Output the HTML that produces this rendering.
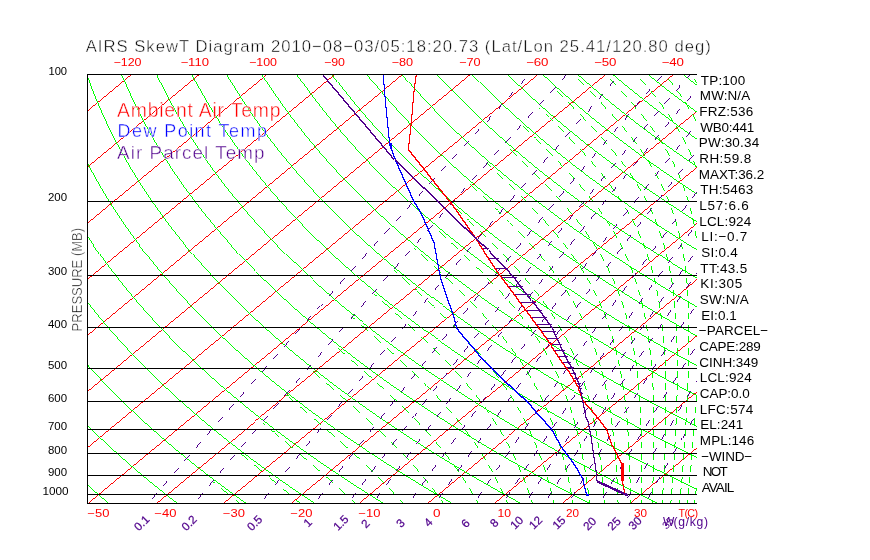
<!DOCTYPE html>
<html><head><meta charset="utf-8"><style>
html,body{margin:0;padding:0;background:#fff;}
svg{display:block;will-change:transform;}
text{font-family:"Liberation Sans",sans-serif;}
.e{stroke:#fff;stroke-width:0.45px;paint-order:fill;}
</style></head><body>
<svg width="870" height="560" viewBox="0 0 870 560">
<defs><clipPath id="c"><rect x="87.5" y="74" width="609.5" height="430.13"/></clipPath></defs>
<rect width="870" height="560" fill="#fff"/>
<g clip-path="url(#c)" fill="none" shape-rendering="crispEdges">
<g stroke="#f00" stroke-width="0.999">
<line x1="-454.25" y1="503.63" x2="63.76" y2="74.5"/>
<line x1="-386.5" y1="503.63" x2="131.51" y2="74.5"/>
<line x1="-318.75" y1="503.63" x2="199.26" y2="74.5"/>
<line x1="-251" y1="503.63" x2="267.01" y2="74.5"/>
<line x1="-183.25" y1="503.63" x2="334.76" y2="74.5"/>
<line x1="-115.5" y1="503.63" x2="402.51" y2="74.5"/>
<line x1="-47.75" y1="503.63" x2="470.26" y2="74.5"/>
<line x1="20" y1="503.63" x2="538.01" y2="74.5"/>
<line x1="87.75" y1="503.63" x2="605.76" y2="74.5"/>
<line x1="155.5" y1="503.63" x2="673.51" y2="74.5"/>
<line x1="223.25" y1="503.63" x2="741.26" y2="74.5"/>
<line x1="291" y1="503.63" x2="809.01" y2="74.5"/>
<line x1="358.75" y1="503.63" x2="876.76" y2="74.5"/>
<line x1="426.5" y1="503.63" x2="944.51" y2="74.5"/>
<line x1="494.25" y1="503.63" x2="1012.26" y2="74.5"/>
<line x1="562" y1="503.63" x2="1080.01" y2="74.5"/>
<line x1="629.75" y1="503.63" x2="1147.76" y2="74.5"/>
<line x1="697.5" y1="503.63" x2="1215.51" y2="74.5"/>
</g>
<g stroke="#0f0" stroke-width="0.999">
<polyline points="40.29,503.63 31.07,495.02 22.1,486.42 13.4,477.81 4.95,469.21 -3.25,460.61 -11.19,452 -18.9,443.4 -26.36,434.79 -33.58,426.19 -40.56,417.59 -47.32,408.98 -53.84,400.38 -60.14,391.77 -66.21,383.17 -72.06,374.57 -77.7,365.96 -83.12,357.36 -88.33,348.75 -93.33,340.15 -98.12,331.55 -102.71,322.94 -107.1,314.34 -111.29,305.73 -115.29,297.13 -119.09,288.53 -122.71,279.92 -126.13,271.32 -129.38,262.71 -132.44,254.11 -135.31,245.51 -138.02,236.9 -140.54,228.3 -142.9,219.69 -145.08,211.09 -147.09,202.48 -148.94,193.88 -150.63,185.28 -152.15,176.67 -153.51,168.07 -154.72,159.46 -155.77,150.86 -156.67,142.26 -157.41,133.65 -158.01,125.05 -158.46,116.44 -158.76,107.84 -158.93,99.24 -158.95,90.63 -158.83,82.03 -158.61,74.5"/>
<polyline points="109,503.63 98.85,495.02 88.98,486.42 79.38,477.81 70.04,469.21 60.98,460.61 52.17,452 43.62,443.4 35.32,434.79 27.27,426.19 19.47,417.59 11.92,408.98 4.6,400.38 -2.48,391.77 -9.32,383.17 -15.94,374.57 -22.33,365.96 -28.49,357.36 -34.43,348.75 -40.15,340.15 -45.66,331.55 -50.95,322.94 -56.03,314.34 -60.91,305.73 -65.58,297.13 -70.05,288.53 -74.32,279.92 -78.4,271.32 -82.28,262.71 -85.97,254.11 -89.47,245.51 -92.79,236.9 -95.92,228.3 -98.87,219.69 -101.64,211.09 -104.24,202.48 -106.66,193.88 -108.91,185.28 -110.99,176.67 -112.91,168.07 -114.65,159.46 -116.24,150.86 -117.67,142.26 -118.94,133.65 -120.05,125.05 -121.01,116.44 -121.81,107.84 -122.47,99.24 -122.98,90.63 -123.34,82.03 -123.54,74.5"/>
<polyline points="177.7,503.63 166.63,495.02 155.85,486.42 145.36,477.81 135.14,469.21 125.2,460.61 115.53,452 106.13,443.4 97,434.79 88.12,426.19 79.51,417.59 71.15,408.98 63.04,400.38 55.18,391.77 47.56,383.17 40.18,374.57 33.04,365.96 26.14,357.36 19.47,348.75 13.02,340.15 6.81,331.55 0.81,322.94 -4.97,314.34 -10.53,305.73 -15.87,297.13 -21.01,288.53 -25.94,279.92 -30.66,271.32 -35.18,262.71 -39.5,254.11 -43.62,245.51 -47.55,236.9 -51.29,228.3 -54.84,219.69 -58.2,211.09 -61.38,202.48 -64.38,193.88 -67.19,185.28 -69.83,176.67 -72.3,168.07 -74.59,159.46 -76.72,150.86 -78.67,142.26 -80.46,133.65 -82.09,125.05 -83.56,116.44 -84.87,107.84 -86.02,99.24 -87.01,90.63 -87.86,82.03 -88.47,74.5"/>
<polyline points="246.4,503.63 234.41,495.02 222.73,486.42 211.33,477.81 200.23,469.21 189.42,460.61 178.89,452 168.65,443.4 158.67,434.79 148.97,426.19 139.54,417.59 130.38,408.98 121.48,400.38 112.83,391.77 104.44,383.17 96.3,374.57 88.41,365.96 80.77,357.36 73.37,348.75 66.2,340.15 59.27,331.55 52.57,322.94 46.1,314.34 39.86,305.73 33.84,297.13 28.03,288.53 22.45,279.92 17.08,271.32 11.92,262.71 6.97,254.11 2.22,245.51 -2.32,236.9 -6.67,228.3 -10.81,219.69 -14.76,211.09 -18.52,202.48 -22.09,193.88 -25.48,185.28 -28.68,176.67 -31.69,168.07 -34.53,159.46 -37.19,150.86 -39.68,142.26 -41.99,133.65 -44.13,125.05 -46.11,116.44 -47.92,107.84 -49.56,99.24 -51.05,90.63 -52.37,82.03 -53.41,74.5"/>
<polyline points="315.1,503.63 302.19,495.02 289.6,486.42 277.31,477.81 265.33,469.21 253.64,460.61 242.26,452 231.16,443.4 220.35,434.79 209.83,426.19 199.58,417.59 189.61,408.98 179.92,400.38 170.49,391.77 161.33,383.17 152.43,374.57 143.78,365.96 135.4,357.36 127.26,348.75 119.37,340.15 111.73,331.55 104.33,322.94 97.17,314.34 90.24,305.73 83.54,297.13 77.08,288.53 70.83,279.92 64.82,271.32 59.02,262.71 53.43,254.11 48.07,245.51 42.91,236.9 37.96,228.3 33.22,219.69 28.67,211.09 24.33,202.48 20.19,193.88 16.24,185.28 12.48,176.67 8.91,168.07 5.53,159.46 2.34,150.86 -0.68,142.26 -3.52,133.65 -6.17,125.05 -8.66,116.44 -10.97,107.84 -13.11,99.24 -15.08,90.63 -16.89,82.03 -18.34,74.5"/>
<polyline points="383.8,503.63 369.98,495.02 356.47,486.42 343.29,477.81 330.42,469.21 317.87,460.61 305.62,452 293.67,443.4 282.03,434.79 270.68,426.19 259.62,417.59 248.84,408.98 238.35,400.38 228.14,391.77 218.21,383.17 208.55,374.57 199.15,365.96 190.03,357.36 181.16,348.75 172.55,340.15 164.19,331.55 156.09,322.94 148.23,314.34 140.62,305.73 133.25,297.13 126.12,288.53 119.22,279.92 112.55,271.32 106.12,262.71 99.9,254.11 93.91,245.51 88.14,236.9 82.58,228.3 77.24,219.69 72.11,211.09 67.19,202.48 62.47,193.88 57.95,185.28 53.64,176.67 49.52,168.07 45.59,159.46 41.86,150.86 38.32,142.26 34.96,133.65 31.79,125.05 28.79,116.44 25.98,107.84 23.34,99.24 20.88,90.63 18.59,82.03 16.73,74.5"/>
<polyline points="452.51,503.63 437.76,495.02 423.35,486.42 409.27,477.81 395.52,469.21 382.09,460.61 368.98,452 356.19,443.4 343.7,434.79 331.53,426.19 319.65,417.59 308.08,408.98 296.79,400.38 285.8,391.77 275.09,383.17 264.67,374.57 254.52,365.96 244.65,357.36 235.06,348.75 225.72,340.15 216.66,331.55 207.85,322.94 199.3,314.34 191.01,305.73 182.96,297.13 175.16,288.53 167.61,279.92 160.29,271.32 153.21,262.71 146.37,254.11 139.76,245.51 133.37,236.9 127.21,228.3 121.27,219.69 115.55,211.09 110.05,202.48 104.75,193.88 99.67,185.28 94.8,176.67 90.13,168.07 85.66,159.46 81.39,150.86 77.31,142.26 73.43,133.65 69.74,125.05 66.24,116.44 62.93,107.84 59.8,99.24 56.85,90.63 54.08,82.03 51.8,74.5"/>
<polyline points="521.21,503.63 505.54,495.02 490.22,486.42 475.25,477.81 460.61,469.21 446.31,460.61 432.34,452 418.7,443.4 405.38,434.79 392.38,426.19 379.69,417.59 367.31,408.98 355.23,400.38 343.46,391.77 331.98,383.17 320.79,374.57 309.9,365.96 299.28,357.36 288.95,348.75 278.9,340.15 269.12,331.55 259.61,322.94 250.37,314.34 241.39,305.73 232.67,297.13 224.2,288.53 215.99,279.92 208.03,271.32 200.31,262.71 192.84,254.11 185.6,245.51 178.6,236.9 171.84,228.3 165.3,219.69 158.99,211.09 152.9,202.48 147.04,193.88 141.39,185.28 135.95,176.67 130.73,168.07 125.72,159.46 120.91,150.86 116.31,142.26 111.91,133.65 107.7,125.05 103.69,116.44 99.88,107.84 96.25,99.24 92.81,90.63 89.56,82.03 86.86,74.5"/>
<polyline points="589.91,503.63 573.32,495.02 557.1,486.42 541.23,477.81 525.71,469.21 510.54,460.61 495.71,452 481.22,443.4 467.06,434.79 453.23,426.19 439.72,417.59 426.54,408.98 413.67,400.38 401.11,391.77 388.86,383.17 376.91,374.57 365.27,365.96 353.91,357.36 342.85,348.75 332.08,340.15 321.58,331.55 311.37,322.94 301.44,314.34 291.77,305.73 282.38,297.13 273.25,288.53 264.38,279.92 255.77,271.32 247.41,262.71 239.3,254.11 231.45,245.51 223.83,236.9 216.46,228.3 209.33,219.69 202.43,211.09 195.76,202.48 189.32,193.88 183.1,185.28 177.11,176.67 171.34,168.07 165.78,159.46 160.44,150.86 155.31,142.26 150.38,133.65 145.66,125.05 141.14,116.44 136.83,107.84 132.71,99.24 128.78,90.63 125.05,82.03 121.93,74.5"/>
<polyline points="658.61,503.63 641.1,495.02 623.97,486.42 607.2,477.81 590.8,469.21 574.76,460.61 559.07,452 543.73,443.4 528.74,434.79 514.08,426.19 499.76,417.59 485.77,408.98 472.11,400.38 458.77,391.77 445.74,383.17 433.04,374.57 420.64,365.96 408.54,357.36 396.75,348.75 385.25,340.15 374.05,331.55 363.13,322.94 352.5,314.34 342.16,305.73 332.09,297.13 322.29,288.53 312.76,279.92 303.5,271.32 294.51,262.71 285.77,254.11 277.29,245.51 269.06,236.9 261.09,228.3 253.35,219.69 245.86,211.09 238.61,202.48 231.6,193.88 224.82,185.28 218.27,176.67 211.94,168.07 205.84,159.46 199.96,150.86 194.3,142.26 188.86,133.65 183.62,125.05 178.59,116.44 173.78,107.84 169.16,99.24 164.75,90.63 160.53,82.03 157,74.5"/>
<polyline points="727.31,503.63 708.89,495.02 690.84,486.42 673.18,477.81 655.9,469.21 638.98,460.61 622.43,452 606.24,443.4 590.41,434.79 574.93,426.19 559.8,417.59 545,408.98 530.55,400.38 516.42,391.77 502.63,383.17 489.16,374.57 476.01,365.96 463.17,357.36 450.64,348.75 438.43,340.15 426.51,331.55 414.89,322.94 403.57,314.34 392.54,305.73 381.79,297.13 371.33,288.53 361.15,279.92 351.24,271.32 341.61,262.71 332.24,254.11 323.14,245.51 314.3,236.9 305.71,228.3 297.38,219.69 289.3,211.09 281.47,202.48 273.88,193.88 266.54,185.28 259.43,176.67 252.55,168.07 245.91,159.46 239.49,150.86 233.3,142.26 227.33,133.65 221.58,125.05 216.05,116.44 210.72,107.84 205.61,99.24 200.71,90.63 196.01,82.03 192.07,74.5"/>
<polyline points="796.02,503.63 776.67,495.02 757.72,486.42 739.16,477.81 720.99,469.21 703.21,460.61 685.8,452 668.76,443.4 652.09,434.79 635.78,426.19 619.83,417.59 604.23,408.98 588.99,400.38 574.08,391.77 559.51,383.17 545.28,374.57 531.38,365.96 517.8,357.36 504.54,348.75 491.6,340.15 478.97,331.55 466.65,322.94 454.64,314.34 442.92,305.73 431.5,297.13 420.37,288.53 409.54,279.92 398.98,271.32 388.71,262.71 378.71,254.11 368.98,245.51 359.53,236.9 350.34,228.3 341.41,219.69 332.74,211.09 324.33,202.48 316.16,193.88 308.25,185.28 300.58,176.67 293.16,168.07 285.97,159.46 279.02,150.86 272.29,142.26 265.8,133.65 259.54,125.05 253.5,116.44 247.67,107.84 242.07,99.24 236.68,90.63 231.5,82.03 227.14,74.5"/>
<polyline points="864.72,503.63 844.45,495.02 824.59,486.42 805.14,477.81 786.09,469.21 767.43,460.61 749.16,452 731.27,443.4 713.77,434.79 696.63,426.19 679.87,417.59 663.47,408.98 647.42,400.38 631.74,391.77 616.4,383.17 601.4,374.57 586.75,365.96 572.43,357.36 558.44,348.75 544.78,340.15 531.44,331.55 518.41,322.94 505.7,314.34 493.3,305.73 481.21,297.13 469.42,288.53 457.92,279.92 446.72,271.32 435.8,262.71 425.18,254.11 414.83,245.51 404.76,236.9 394.96,228.3 385.44,219.69 376.18,211.09 367.18,202.48 358.45,193.88 349.97,185.28 341.74,176.67 333.76,168.07 326.03,159.46 318.54,150.86 311.29,142.26 304.28,133.65 297.5,125.05 290.95,116.44 284.62,107.84 278.52,99.24 272.64,90.63 266.98,82.03 262.2,74.5"/>
<polyline points="933.42,503.63 912.23,495.02 891.47,486.42 871.12,477.81 851.18,469.21 831.65,460.61 812.52,452 793.79,443.4 775.44,434.79 757.48,426.19 739.9,417.59 722.7,408.98 705.86,400.38 689.39,391.77 673.28,383.17 657.52,374.57 642.12,365.96 627.06,357.36 612.33,348.75 597.95,340.15 583.9,331.55 570.17,322.94 556.77,314.34 543.69,305.73 530.92,297.13 518.46,288.53 506.31,279.92 494.46,271.32 482.9,262.71 471.64,254.11 460.67,245.51 449.99,236.9 439.59,228.3 429.47,219.69 419.62,211.09 410.04,202.48 400.73,193.88 391.68,185.28 382.9,176.67 374.37,168.07 366.09,159.46 358.07,150.86 350.29,142.26 342.75,133.65 335.46,125.05 328.4,116.44 321.57,107.84 314.98,99.24 308.61,90.63 302.47,82.03 297.27,74.5"/>
<polyline points="1002.12,503.63 980.01,495.02 958.34,486.42 937.1,477.81 916.28,469.21 895.87,460.61 875.88,452 856.3,443.4 837.12,434.79 818.33,426.19 799.94,417.59 781.93,408.98 764.3,400.38 747.05,391.77 730.16,383.17 713.64,374.57 697.49,365.96 681.68,357.36 666.23,348.75 651.13,340.15 636.36,331.55 621.93,322.94 607.84,314.34 594.07,305.73 580.63,297.13 567.5,288.53 554.69,279.92 542.19,271.32 530,262.71 518.11,254.11 506.52,245.51 495.22,236.9 484.21,228.3 473.49,219.69 463.05,211.09 452.9,202.48 443.01,193.88 433.4,185.28 424.05,176.67 414.97,168.07 406.15,159.46 397.59,150.86 389.28,142.26 381.23,133.65 373.41,125.05 365.85,116.44 358.52,107.84 351.43,99.24 344.57,90.63 337.95,82.03 332.34,74.5"/>
<polyline points="1070.82,503.63 1047.8,495.02 1025.21,486.42 1003.07,477.81 981.37,469.21 960.1,460.61 939.25,452 918.82,443.4 898.8,434.79 879.19,426.19 859.98,417.59 841.16,408.98 822.74,400.38 804.7,391.77 787.05,383.17 769.77,374.57 752.86,365.96 736.31,357.36 720.13,348.75 704.3,340.15 688.82,331.55 673.69,322.94 658.91,314.34 644.45,305.73 630.34,297.13 616.54,288.53 603.08,279.92 589.93,271.32 577.1,262.71 564.58,254.11 552.36,245.51 540.45,236.9 528.84,228.3 517.52,219.69 506.49,211.09 495.75,202.48 485.29,193.88 475.12,185.28 465.21,176.67 455.58,168.07 446.22,159.46 437.12,150.86 428.28,142.26 419.7,133.65 411.37,125.05 403.3,116.44 395.47,107.84 387.88,99.24 380.54,90.63 373.43,82.03 367.41,74.5"/>
<polyline points="1139.53,503.63 1115.58,495.02 1092.09,486.42 1069.05,477.81 1046.47,469.21 1024.32,460.61 1002.61,452 981.33,443.4 960.47,434.79 940.04,426.19 920.01,417.59 900.39,408.98 881.18,400.38 862.36,391.77 843.93,383.17 825.89,374.57 808.23,365.96 790.94,357.36 774.03,348.75 757.48,340.15 741.29,331.55 725.45,322.94 709.97,314.34 694.84,305.73 680.04,297.13 665.59,288.53 651.46,279.92 637.67,271.32 624.2,262.71 611.05,254.11 598.21,245.51 585.68,236.9 573.46,228.3 561.55,219.69 549.93,211.09 538.61,202.48 527.58,193.88 516.83,185.28 506.37,176.67 496.19,168.07 486.28,159.46 476.64,150.86 467.28,142.26 458.17,133.65 449.33,125.05 440.75,116.44 432.42,107.84 424.34,99.24 416.51,90.63 408.92,82.03 402.48,74.5"/>
<polyline points="1208.23,503.63 1183.36,495.02 1158.96,486.42 1135.03,477.81 1111.56,469.21 1088.54,460.61 1065.97,452 1043.84,443.4 1022.15,434.79 1000.89,426.19 980.05,417.59 959.63,408.98 939.62,400.38 920.01,391.77 900.81,383.17 882.01,374.57 863.6,365.96 845.57,357.36 827.92,348.75 810.65,340.15 793.75,331.55 777.21,322.94 761.04,314.34 745.22,305.73 729.75,297.13 714.63,288.53 699.85,279.92 685.41,271.32 671.3,262.71 657.51,254.11 644.05,245.51 630.91,236.9 618.09,228.3 605.58,219.69 593.37,211.09 581.46,202.48 569.86,193.88 558.55,185.28 547.53,176.67 536.79,168.07 526.34,159.46 516.17,150.86 506.27,142.26 496.65,133.65 487.29,125.05 478.2,116.44 469.37,107.84 460.79,99.24 452.47,90.63 444.4,82.03 437.54,74.5"/>
<polyline points="1276.93,503.63 1251.14,495.02 1225.84,486.42 1201.01,477.81 1176.66,469.21 1152.77,460.61 1129.34,452 1106.36,443.4 1083.83,434.79 1061.74,426.19 1040.08,417.59 1018.86,408.98 998.05,400.38 977.67,391.77 957.7,383.17 938.13,374.57 918.97,365.96 900.2,357.36 881.82,348.75 863.83,340.15 846.21,331.55 828.97,322.94 812.11,314.34 795.6,305.73 779.46,297.13 763.67,288.53 748.24,279.92 733.14,271.32 718.39,262.71 703.98,254.11 689.9,245.51 676.15,236.9 662.72,228.3 649.6,219.69 636.81,211.09 624.32,202.48 612.14,193.88 600.26,185.28 588.68,176.67 577.4,168.07 566.4,159.46 555.7,150.86 545.27,142.26 535.12,133.65 525.25,125.05 515.65,116.44 506.32,107.84 497.25,99.24 488.44,90.63 479.89,82.03 472.61,74.5"/>
<polyline points="1345.63,503.63 1318.92,495.02 1292.71,486.42 1266.99,477.81 1241.75,469.21 1216.99,460.61 1192.7,452 1168.87,443.4 1145.5,434.79 1122.59,426.19 1100.12,417.59 1078.09,408.98 1056.49,400.38 1035.33,391.77 1014.58,383.17 994.25,374.57 974.34,365.96 954.83,357.36 935.72,348.75 917,340.15 898.68,331.55 880.74,322.94 863.17,314.34 845.99,305.73 829.17,297.13 812.72,288.53 796.62,279.92 780.88,271.32 765.49,262.71 750.45,254.11 735.74,245.51 721.38,236.9 707.34,228.3 693.63,219.69 680.25,211.09 667.18,202.48 654.42,193.88 641.98,185.28 629.84,176.67 618.01,168.07 606.47,159.46 595.22,150.86 584.27,142.26 573.6,133.65 563.21,125.05 553.1,116.44 543.26,107.84 533.7,99.24 524.4,90.63 515.37,82.03 507.68,74.5"/>
<polyline points="1414.33,503.63 1386.7,495.02 1359.58,486.42 1332.97,477.81 1306.85,469.21 1281.21,460.61 1256.06,452 1231.39,443.4 1207.18,434.79 1183.44,426.19 1160.15,417.59 1137.32,408.98 1114.93,400.38 1092.98,391.77 1071.47,383.17 1050.38,374.57 1029.71,365.96 1009.46,357.36 989.61,348.75 970.18,340.15 951.14,331.55 932.5,322.94 914.24,314.34 896.37,305.73 878.88,297.13 861.76,288.53 845.01,279.92 828.62,271.32 812.59,262.71 796.92,254.11 781.59,245.51 766.61,236.9 751.97,228.3 737.66,219.69 723.68,211.09 710.03,202.48 696.71,193.88 683.7,185.28 671,176.67 658.61,168.07 646.53,159.46 634.75,150.86 623.26,142.26 612.07,133.65 601.17,125.05 590.55,116.44 580.21,107.84 570.15,99.24 560.37,90.63 550.85,82.03 542.75,74.5"/>
<polyline points="1483.04,503.63 1454.49,495.02 1426.46,486.42 1398.95,477.81 1371.94,469.21 1345.43,460.61 1319.42,452 1293.9,443.4 1268.86,434.79 1244.29,426.19 1220.19,417.59 1196.55,408.98 1173.37,400.38 1150.64,391.77 1128.35,383.17 1106.5,374.57 1085.08,365.96 1064.08,357.36 1043.51,348.75 1023.35,340.15 1003.6,331.55 984.26,322.94 965.31,314.34 946.75,305.73 928.59,297.13 910.8,288.53 893.39,279.92 876.36,271.32 859.69,262.71 843.38,254.11 827.43,245.51 811.84,236.9 796.59,228.3 781.69,219.69 767.12,211.09 752.89,202.48 738.99,193.88 725.41,185.28 712.16,176.67 699.22,168.07 686.59,159.46 674.27,150.86 662.26,142.26 650.54,133.65 639.13,125.05 628,116.44 617.16,107.84 606.61,99.24 596.33,90.63 586.34,82.03 577.81,74.5"/>
<polyline points="1551.74,503.63 1522.27,495.02 1493.33,486.42 1464.92,477.81 1437.03,469.21 1409.66,460.61 1382.79,452 1356.41,443.4 1330.54,434.79 1305.14,426.19 1280.23,417.59 1255.78,408.98 1231.81,400.38 1208.29,391.77 1185.23,383.17 1162.62,374.57 1140.45,365.96 1118.71,357.36 1097.41,348.75 1076.53,340.15 1056.06,331.55 1036.02,322.94 1016.37,314.34 997.14,305.73 978.29,297.13 959.84,288.53 941.78,279.92 924.1,271.32 906.79,262.71 889.85,254.11 873.28,245.51 857.07,236.9 841.22,228.3 825.72,219.69 810.56,211.09 795.75,202.48 781.27,193.88 767.13,185.28 753.31,176.67 739.82,168.07 726.65,159.46 713.8,150.86 701.25,142.26 689.02,133.65 677.08,125.05 665.45,116.44 654.11,107.84 643.06,99.24 632.3,90.63 621.82,82.03 612.88,74.5"/>
<polyline points="1620.44,503.63 1590.05,495.02 1560.21,486.42 1530.9,477.81 1502.13,469.21 1473.88,460.61 1446.15,452 1418.93,443.4 1392.21,434.79 1365.99,426.19 1340.26,417.59 1315.02,408.98 1290.25,400.38 1265.95,391.77 1242.12,383.17 1218.74,374.57 1195.82,365.96 1173.34,357.36 1151.3,348.75 1129.7,340.15 1108.53,331.55 1087.78,322.94 1067.44,314.34 1047.52,305.73 1028,297.13 1008.89,288.53 990.16,279.92 971.83,271.32 953.89,262.71 936.32,254.11 919.13,245.51 902.3,236.9 885.84,228.3 869.74,219.69 854,211.09 838.6,202.48 823.55,193.88 808.84,185.28 794.47,176.67 780.43,168.07 766.72,159.46 753.32,150.86 740.25,142.26 727.49,133.65 715.04,125.05 702.9,116.44 691.06,107.84 679.52,99.24 668.27,90.63 657.31,82.03 647.95,74.5"/>
<polyline points="1689.14,503.63 1657.83,495.02 1627.08,486.42 1596.88,477.81 1567.22,469.21 1538.1,460.61 1509.51,452 1481.44,443.4 1453.89,434.79 1426.84,426.19 1400.3,417.59 1374.25,408.98 1348.69,400.38 1323.61,391.77 1299,383.17 1274.86,374.57 1251.19,365.96 1227.97,357.36 1205.2,348.75 1182.88,340.15 1160.99,331.55 1139.54,322.94 1118.51,314.34 1097.9,305.73 1077.71,297.13 1057.93,288.53 1038.55,279.92 1019.57,271.32 1000.98,262.71 982.79,254.11 964.97,245.51 947.53,236.9 930.47,228.3 913.77,219.69 897.44,211.09 881.46,202.48 865.84,193.88 850.56,185.28 835.63,176.67 821.04,168.07 806.78,159.46 792.85,150.86 779.25,142.26 765.97,133.65 753,125.05 740.35,116.44 728.01,107.84 715.97,99.24 704.23,90.63 692.79,82.03 683.02,74.5"/>
<polyline points="1757.84,503.63 1725.61,495.02 1693.96,486.42 1662.86,477.81 1632.32,469.21 1602.33,460.61 1572.88,452 1543.96,443.4 1515.57,434.79 1487.69,426.19 1460.33,417.59 1433.48,408.98 1407.12,400.38 1381.26,391.77 1355.88,383.17 1330.98,374.57 1306.56,365.96 1282.6,357.36 1259.1,348.75 1236.05,340.15 1213.45,331.55 1191.3,322.94 1169.58,314.34 1148.29,305.73 1127.42,297.13 1106.97,288.53 1086.94,279.92 1067.31,271.32 1048.08,262.71 1029.25,254.11 1010.82,245.51 992.76,236.9 975.09,228.3 957.8,219.69 940.87,211.09 924.32,202.48 908.12,193.88 892.28,185.28 876.79,176.67 861.64,168.07 846.84,159.46 832.38,150.86 818.24,142.26 804.44,133.65 790.96,125.05 777.8,116.44 764.96,107.84 752.42,99.24 740.2,90.63 728.27,82.03 718.09,74.5"/>
</g>
<g stroke="#0f0">
<path stroke-width="0.999" d="M239.8,503.63 L238.03,502.19 L236.27,500.76 L235.5,500.13 M229.12,494.93 L227.46,493.58 L225.7,492.14 L223.95,490.71 L222.19,489.27 L221.15,488.43 M214.8,483.23 L213.43,482.1"/>
<path stroke-width="0.999" d="M300.46,503.63 L298.79,502.19 L297.12,500.76 L296.38,500.13 M290.27,494.93 L288.67,493.58 L286.97,492.14 L285.27,490.71 L283.56,489.27 L282.55,488.43 M276.33,483.23 L274.97,482.1 L273.25,480.66 L271.52,479.23 L269.79,477.79 L268.51,476.73 M262.24,471.53 L261.14,470.62 L259.41,469.18 L257.67,467.75 L255.94,466.31 L254.39,465.03 L254.39,465.03 M248.12,459.83 L247.28,459.13 L245.55,457.7 L243.83,456.26 L242.1,454.83 L240.38,453.39 L240.3,453.33"/>
<path stroke-width="0.999" d="M355.23,503.63 L353.75,502.19 L352.25,500.76 L351.6,500.13 M346.11,494.93 L344.67,493.58 L343.13,492.14 L341.58,490.71 L340.02,489.27 L339.09,488.43 M333.37,483.23 L332.11,482.1 L330.51,480.66 L328.9,479.23 L327.28,477.79 L326.08,476.73 M320.16,471.53 L319.12,470.62 L317.47,469.18 L315.81,467.75 L314.15,466.31 L312.66,465.03 L312.66,465.03 M306.6,459.83 L305.79,459.13 L304.11,457.7 L302.42,456.26 L300.73,454.83 L299.04,453.39 L298.96,453.33 M292.81,448.13 L292.25,447.65 L290.55,446.22 L288.85,444.78 L287.15,443.35 L285.44,441.91 L285.1,441.63 M278.92,436.43 L278.62,436.17 L276.91,434.74 L275.21,433.3 L273.5,431.87 L271.8,430.43 L271.2,429.93 L271.2,429.93 M265.04,424.73 L265,424.69 L263.3,423.25"/>
<path stroke-width="0.999" d="M402.99,503.63 L401.75,502.19 L400.49,500.76 L399.94,500.13 M395.3,494.93 L394.07,493.58 L392.76,492.14 L391.43,490.71 L390.09,489.27 L389.3,488.43 M384.35,483.23 L383.25,482.1 L381.86,480.66 L380.45,479.23 L379.03,477.79 L377.97,476.73 M372.72,471.53 L371.79,470.62 L370.32,469.18 L368.84,467.75 L367.34,466.31 L366,465.03 L366,465.03 M360.49,459.83 L359.75,459.13 L358.21,457.7 L356.66,456.26 L355.1,454.83 L353.54,453.39 L353.46,453.33 M347.73,448.13 L347.21,447.65 L345.61,446.22 L344.01,444.78 L342.4,443.35 L340.78,441.91 L340.46,441.63 M334.56,436.43 L334.27,436.17 L332.63,434.74 L330.98,433.3 L329.33,431.87 L327.68,430.43 L327.1,429.93 L327.1,429.93 M321.08,424.73 L321.04,424.69 L319.37,423.25 L317.7,421.82 L316.03,420.38 L314.36,418.95 L313.51,418.23 L313.51,418.23 M307.44,413.03 L305.97,411.77 L304.29,410.34 L302.61,408.9 L300.93,407.47 L299.83,406.53 M293.75,401.33 L292.54,400.29 L290.86,398.86 L289.19,397.42 L287.51,395.99 L286.16,394.83"/>
<path stroke-width="0.999" d="M443.73,503.63 L442.73,502.19 L441.72,500.76 L441.28,500.13 M437.52,494.93 L436.52,493.58 L435.45,492.14 L434.37,490.71 L433.27,489.27 L432.62,488.43 M428.55,483.23 L427.65,482.1 L426.49,480.66 L425.32,479.23 L424.14,477.79 L423.25,476.73 M418.86,471.53 L418.08,470.62 L416.83,469.18 L415.57,467.75 L414.31,466.31 L413.16,465.03 L413.16,465.03 M408.45,459.83 L407.81,459.13 L406.48,457.7 L405.14,456.26 L403.79,454.83 L402.42,453.39 L402.36,453.33 M397.34,448.13 L396.87,447.65 L395.46,446.22 L394.04,444.78 L392.61,443.35 L391.17,441.91 L390.88,441.63 M385.58,436.43 L385.31,436.17 L383.83,434.74 L382.33,433.3 L380.83,431.87 L379.32,430.43 L378.79,429.93 L378.79,429.93 M373.24,424.73 L373.2,424.69 L371.65,423.25 L370.1,421.82 L368.53,420.38 L366.97,418.95 L366.17,418.23 L366.17,418.23 M360.43,413.03 L359.03,411.77 L357.43,410.34 L355.82,408.9 L354.21,407.47 L353.15,406.53 M347.26,401.33 L346.08,400.29 L344.45,398.86 L342.81,397.42 L341.17,395.99 L339.84,394.83 M333.87,389.63 L332.93,388.81 L331.28,387.37 L329.62,385.94 L327.97,384.5 L326.38,383.13 M320.38,377.93 L319.69,377.33 L318.04,375.89 L316.38,374.46 L314.73,373.02 L313.08,371.59 L312.89,371.43 L312.89,371.43"/>
<path stroke-width="0.999" d="M478.22,503.63 L477.44,502.19 L476.65,500.76 L476.3,500.13 M473.34,494.93 L472.55,493.58 L471.7,492.14 L470.85,490.71 L469.98,489.27 L469.46,488.43 M466.23,483.23 L465.51,482.1 L464.58,480.66 L463.65,479.23 L462.7,477.79 L461.99,476.73 M458.45,471.53 L457.82,470.62 L456.81,469.18 L455.8,467.75 L454.77,466.31 L453.84,465.03 L453.84,465.03 M449.98,459.83 L449.46,459.13 L448.37,457.7 L447.26,456.26 L446.15,454.83 L445.02,453.39 L444.97,453.33 M440.79,448.13 L440.4,447.65 L439.22,446.22 L438.02,444.78 L436.82,443.35 L435.6,441.91 L435.36,441.63 M430.85,436.43 L430.63,436.17 L429.36,434.74 L428.08,433.3 L426.78,431.87 L425.48,430.43 L425.02,429.93 L425.02,429.93 M420.19,424.73 L420.16,424.69 L418.8,423.25 L417.44,421.82 L416.06,420.38 L414.68,418.95 L413.97,418.23 L413.97,418.23 M408.85,413.03 L407.6,411.77 L406.16,410.34 L404.71,408.9 L403.25,407.47 L402.28,406.53 M396.9,401.33 L395.82,400.29 L394.31,398.86 L392.79,397.42 L391.26,395.99 L390.03,394.83 M384.43,389.63 L383.54,388.81 L381.98,387.37 L380.41,385.94 L378.83,384.5 L377.32,383.13 M371.55,377.93 L370.89,377.33 L369.28,375.89 L367.68,374.46 L366.07,373.02 L364.46,371.59 L364.27,371.43 L364.27,371.43 M358.41,366.23 L357.98,365.85 L356.35,364.41 L354.73,362.98 L353.1,361.54 L351.47,360.11 L351.04,359.73 L351.04,359.73 M345.12,354.53 L344.94,354.36 L343.31,352.93 L341.67,351.49 L340.04,350.06 L338.41,348.62 L337.73,348.03"/>
<path stroke-width="0.999" d="M507.49,503.63 L506.89,502.19 L506.28,500.76 L506.01,500.13 M503.72,494.93 L503.11,493.58 L502.46,492.14 L501.79,490.71 L501.12,489.27 L500.72,488.43 M498.21,483.23 L497.65,482.1 L496.93,480.66 L496.2,479.23 L495.46,477.79 L494.9,476.73 M492.13,471.53 L491.64,470.62 L490.84,469.18 L490.04,467.75 L489.23,466.31 L488.5,465.03 L488.5,465.03 M485.45,459.83 L485.04,459.13 L484.17,457.7 L483.29,456.26 L482.4,454.83 L481.5,453.39 L481.46,453.33 M478.11,448.13 L477.8,447.65 L476.85,446.22 L475.88,444.78 L474.91,443.35 L473.93,441.91 L473.73,441.63 M470.07,436.43 L469.88,436.17 L468.85,434.74 L467.8,433.3 L466.73,431.87 L465.66,430.43 L465.28,429.93 L465.28,429.93 M461.29,424.73 L461.26,424.69 L460.13,423.25 L459,421.82 L457.84,420.38 L456.68,418.95 L456.09,418.23 L456.09,418.23 M451.77,413.03 L450.7,411.77 L449.47,410.34 L448.23,408.9 L446.98,407.47 L446.15,406.53 M441.5,401.33 L440.56,400.29 L439.24,398.86 L437.92,397.42 L436.58,395.99 L435.49,394.83 M430.53,389.63 L429.74,388.81 L428.34,387.37 L426.93,385.94 L425.52,384.5 L424.15,383.13 M418.91,377.93 L418.3,377.33 L416.83,375.89 L415.36,374.46 L413.87,373.02 L412.38,371.59 L412.21,371.43 L412.21,371.43 M406.74,366.23 L406.34,365.85 L404.81,364.41 L403.28,362.98 L401.74,361.54 L400.19,360.11 L399.78,359.73 L399.78,359.73 M394.13,354.53 L393.96,354.36 L392.39,352.93 L390.81,351.49 L389.23,350.06 L387.65,348.62 L386.99,348.03 M381.22,342.83 L379.69,341.45 L378.08,340.01 L376.48,338.58 L374.88,337.14 L373.96,336.33 L373.96,336.33 M368.13,331.13 L366.83,329.97 L365.22,328.53 L363.61,327.1 L362,325.66 L360.84,324.63 M355.01,319.43 L353.95,318.48 L352.35,317.05"/>
<path stroke-width="0.999" d="M532.53,503.63 L532.07,502.19 L531.61,500.76 L531.41,500.13 M529.67,494.93 L529.21,493.58 L528.71,492.14 L528.2,490.71 L527.69,489.27 L527.39,488.43 M525.47,483.23 L525.04,482.1 L524.49,480.66 L523.93,479.23 L523.36,477.79 L522.94,476.73 M520.81,471.53 L520.43,470.62 L519.82,469.18 L519.2,467.75 L518.58,466.31 L518.01,465.03 L518.01,465.03 M515.65,459.83 L515.33,459.13 L514.66,457.7 L513.98,456.26 L513.29,454.83 L512.59,453.39 L512.55,453.33 M509.94,448.13 L509.7,447.65 L508.96,446.22 L508.2,444.78 L507.44,443.35 L506.67,441.91 L506.51,441.63 M503.63,436.43 L503.48,436.17 L502.66,434.74 L501.83,433.3 L500.99,431.87 L500.14,430.43 L499.83,429.93 L499.83,429.93 M496.65,424.73 L496.63,424.69 L495.72,423.25 L494.81,421.82 L493.88,420.38 L492.95,418.95 L492.47,418.23 L492.47,418.23 M488.97,413.03 L488.1,411.77 L487.1,410.34 L486.09,408.9 L485.06,407.47 L484.38,406.53 M480.55,401.33 L479.77,400.29 L478.68,398.86 L477.57,397.42 L476.46,395.99 L475.54,394.83 M471.37,389.63 L470.7,388.81 L469.52,387.37 L468.32,385.94 L467.12,384.5 L465.95,383.13 M461.44,377.93 L460.91,377.33 L459.64,375.89 L458.35,374.46 L457.06,373.02 L455.75,371.59 L455.6,371.43 L455.6,371.43 M450.78,366.23 L450.42,365.85 L449.06,364.41 L447.69,362.98 L446.32,361.54 L444.93,360.11 L444.56,359.73 L444.56,359.73 M439.45,354.53 L439.29,354.36 L437.85,352.93 L436.41,351.49 L434.96,350.06 L433.51,348.62 L432.9,348.03 M427.54,342.83 L426.1,341.45 L424.6,340.01 L423.09,338.58 L421.58,337.14 L420.71,336.33 L420.71,336.33 M415.17,331.13 L413.92,329.97 L412.37,328.53 L410.82,327.1 L409.27,325.66 L408.14,324.63 M402.46,319.43 L401.43,318.48 L399.86,317.05 L398.28,315.61 L396.7,314.18 L395.31,312.93 M389.56,307.73 L388.76,307 L387.17,305.57 L385.58,304.13 L383.99,302.7 L382.4,301.26 L382.36,301.23 L382.36,301.23 M376.6,296.03 L376.05,295.52 L374.46,294.09"/>
<path stroke-width="0.999" d="M554.17,503.63 L553.83,502.19 L553.49,500.76 L553.34,500.13 M552.04,494.93 L551.7,493.58 L551.33,492.14 L550.95,490.71 L550.57,489.27 L550.34,488.43 M548.9,483.23 L548.58,482.1 L548.17,480.66 L547.75,479.23 L547.32,477.79 L547.01,476.73 M545.4,471.53 L545.12,470.62 L544.66,469.18 L544.19,467.75 L543.72,466.31 L543.29,465.03 L543.29,465.03 M541.5,459.83 L541.26,459.13 L540.75,457.7 L540.23,456.26 L539.71,454.83 L539.17,453.39 L539.15,453.33 M537.15,448.13 L536.97,447.65 L536.4,446.22 L535.82,444.78 L535.24,443.35 L534.65,441.91 L534.53,441.63 M532.31,436.43 L532.19,436.17 L531.56,434.74 L530.92,433.3 L530.27,431.87 L529.61,430.43 L529.37,429.93 L529.37,429.93 M526.9,424.73 L526.88,424.69 L526.18,423.25 L525.47,421.82 L524.74,420.38 L524.01,418.95 L523.64,418.23 L523.64,418.23 M520.89,413.03 L520.21,411.77 L519.42,410.34 L518.62,408.9 L517.81,407.47 L517.27,406.53 M514.22,401.33 L513.59,400.29 L512.72,398.86 L511.83,397.42 L510.94,395.99 L510.21,394.83 M506.83,389.63 L506.29,388.81 L505.33,387.37 L504.36,385.94 L503.37,384.5 L502.41,383.13 M498.71,377.93 L498.27,377.33 L497.22,375.89 L496.15,374.46 L495.07,373.02 L493.99,371.59 L493.86,371.43 L493.86,371.43 M489.81,366.23 L489.51,365.85 L488.36,364.41 L487.2,362.98 L486.03,361.54 L484.85,360.11 L484.54,359.73 L484.54,359.73 M480.15,354.53 L480.01,354.36 L478.77,352.93 L477.52,351.49 L476.26,350.06 L474.99,348.62 L474.45,348.03 M469.74,342.83 L468.47,341.45 L467.13,340.01 L465.79,338.58 L464.43,337.14 L463.66,336.33 L463.66,336.33 M458.65,331.13 L457.52,329.97 L456.1,328.53 L454.68,327.1 L453.26,325.66 L452.22,324.63 M446.96,319.43 L446,318.48 L444.52,317.05 L443.04,315.61 L441.55,314.18 L440.25,312.93 M434.79,307.73 L434.03,307 L432.5,305.57 L430.98,304.13 L429.44,302.7 L427.91,301.26 L427.87,301.23 L427.87,301.23 M422.27,296.03 L421.73,295.52 L420.17,294.09 L418.62,292.65 L417.06,291.22 L415.5,289.78 L415.22,289.53 M409.54,284.33 L409.23,284.04 L407.66,282.6 L406.09,281.17 L404.52,279.73 L402.95,278.3 L402.43,277.83 L402.43,277.83 M396.74,272.63 L396.67,272.56 L395.1,271.12 L393.53,269.69"/>
<path stroke-width="0.999" d="M573.07,503.63 L572.83,502.19 L572.58,500.76 L572.47,500.13 M571.54,494.93 L571.29,493.58 L571.02,492.14 L570.74,490.71 L570.47,489.27 L570.3,488.43 M569.25,483.23 L569.02,482.1 L568.72,480.66 L568.41,479.23 L568.1,477.79 L567.87,476.73 M566.69,471.53 L566.48,470.62 L566.14,469.18 L565.8,467.75 L565.45,466.31 L565.13,465.03 L565.13,465.03 M563.81,459.83 L563.63,459.13 L563.25,457.7 L562.87,456.26 L562.48,454.83 L562.08,453.39 L562.06,453.33 M560.58,448.13 L560.44,447.65 L560.01,446.22 L559.58,444.78 L559.14,443.35 L558.7,441.91 L558.61,441.63 M556.94,436.43 L556.86,436.17 L556.38,434.74 L555.89,433.3 L555.4,431.87 L554.9,430.43 L554.73,429.93 L554.73,429.93 M552.85,424.73 L552.84,424.69 L552.3,423.25 L551.76,421.82 L551.21,420.38 L550.65,418.95 L550.36,418.23 L550.36,418.23 M548.26,413.03 L547.73,411.77 L547.13,410.34 L546.51,408.9 L545.89,407.47 L545.47,406.53 M543.11,401.33 L542.63,400.29 L541.95,398.86 L541.26,397.42 L540.56,395.99 L539.99,394.83 M537.35,389.63 L536.92,388.81 L536.17,387.37 L535.4,385.94 L534.62,384.5 L533.86,383.13 M530.92,377.93 L530.57,377.33 L529.73,375.89 L528.88,374.46 L528.02,373.02 L527.14,371.59 L527.04,371.43 L527.04,371.43 M523.78,366.23 L523.54,365.85 L522.61,364.41 L521.66,362.98 L520.71,361.54 L519.75,360.11 L519.49,359.73 L519.49,359.73 M515.88,354.53 L515.77,354.36 L514.75,352.93 L513.71,351.49 L512.66,350.06 L511.61,348.62 L511.16,348.03 M507.21,342.83 L506.14,341.45 L505.01,340.01 L503.87,338.58 L502.71,337.14 L502.05,336.33 L502.05,336.33 M497.75,331.13 L496.78,329.97 L495.55,328.53 L494.32,327.1 L493.08,325.66 L492.17,324.63 M487.54,319.43 L486.69,318.48 L485.38,317.05 L484.06,315.61 L482.74,314.18 L481.57,312.93 M476.64,307.73 L475.94,307 L474.56,305.57 L473.16,304.13 L471.76,302.7 L470.35,301.26 L470.31,301.23 L470.31,301.23 M465.12,296.03 L464.62,295.52 L463.17,294.09 L461.71,292.65 L460.24,291.22 L458.77,289.78 L458.51,289.53 M453.12,284.33 L452.82,284.04 L451.32,282.6 L449.82,281.17 L448.31,279.73 L446.79,278.3 L446.29,277.83 L446.29,277.83 M440.76,272.63 L440.69,272.56 L439.16,271.12 L437.62,269.69 L436.08,268.25 L434.54,266.82 L433.8,266.13 M428.19,260.93 L426.8,259.64 L425.25,258.21 L423.7,256.77 L422.15,255.34 L421.17,254.43 M415.54,249.23 L414.39,248.16"/>
<path stroke-width="0.999" d="M589.74,503.63 L589.57,502.19 L589.4,500.76 L589.33,500.13 M588.69,494.93 L588.51,493.58 L588.33,492.14 L588.14,490.71 L587.95,489.27 L587.83,488.43 M587.1,483.23 L586.94,482.1 L586.73,480.66 L586.51,479.23 L586.3,477.79 L586.13,476.73 M585.3,471.53 L585.15,470.62 L584.91,469.18 L584.67,467.75 L584.42,466.31 L584.2,465.03 L584.2,465.03 M583.25,459.83 L583.12,459.13 L582.85,457.7 L582.58,456.26 L582.3,454.83 L582.01,453.39 L582,453.33 M580.92,448.13 L580.82,447.65 L580.51,446.22 L580.2,444.78 L579.88,443.35 L579.56,441.91 L579.49,441.63 M578.27,436.43 L578.21,436.17 L577.86,434.74 L577.51,433.3 L577.15,431.87 L576.78,430.43 L576.65,429.93 L576.65,429.93 M575.26,424.73 L575.25,424.69 L574.86,423.25 L574.45,421.82 L574.05,420.38 L573.63,418.95 L573.42,418.23 L573.42,418.23 M571.85,413.03 L571.45,411.77 L571,410.34 L570.54,408.9 L570.07,407.47 L569.75,406.53 M567.97,401.33 L567.61,400.29 L567.09,398.86 L566.57,397.42 L566.04,395.99 L565.61,394.83 M563.59,389.63 L563.27,388.81 L562.69,387.37 L562.1,385.94 L561.5,384.5 L560.92,383.13 M558.65,377.93 L558.38,377.33 L557.73,375.89 L557.07,374.46 L556.4,373.02 L555.72,371.59 L555.64,371.43 L555.64,371.43 M553.09,366.23 L552.9,365.85 L552.17,364.41 L551.43,362.98 L550.68,361.54 L549.92,360.11 L549.71,359.73 L549.71,359.73 M546.85,354.53 L546.76,354.36 L545.95,352.93 L545.12,351.49 L544.29,350.06 L543.44,348.62 L543.08,348.03 M539.89,342.83 L539.02,341.45 L538.11,340.01 L537.18,338.58 L536.24,337.14 L535.7,336.33 L535.7,336.33 M532.17,331.13 L531.36,329.97 L530.35,328.53 L529.33,327.1 L528.29,325.66 L527.54,324.63 M523.66,319.43 L522.94,318.48 L521.83,317.05 L520.71,315.61 L519.58,314.18 L518.58,312.93 M514.35,307.73 L513.75,307 L512.55,305.57 L511.34,304.13 L510.12,302.7 L508.88,301.26 L508.85,301.23 L508.85,301.23 M504.29,296.03 L503.84,295.52 L502.55,294.09 L501.25,292.65 L499.94,291.22 L498.62,289.78 L498.38,289.53 M493.52,284.33 L493.25,284.04 L491.88,282.6 L490.5,281.17 L489.12,279.73 L487.72,278.3 L487.26,277.83 L487.26,277.83 M482.14,272.63 L482.07,272.56 L480.64,271.12 L479.2,269.69 L477.75,268.25 L476.3,266.82 L475.59,266.13 M470.26,260.93 L468.94,259.64 L467.45,258.21 L465.96,256.77 L464.46,255.34 L463.51,254.43 M458.04,249.23 L456.91,248.16 L455.39,246.72 L453.87,245.29 L452.35,243.85 L451.15,242.73 L451.15,242.73 M445.61,237.53 L444.7,236.68 L443.17,235.24 L441.63,233.81 L440.1,232.37 L438.66,231.03 L438.66,231.03 M433.1,225.83 L432.43,225.2"/>
<path stroke-width="0.999" d="M604.57,503.63 L604.47,502.19 L604.37,500.76 L604.32,500.13 M603.92,494.93 L603.81,493.58 L603.69,492.14 L603.57,490.71 L603.45,489.27 L603.38,488.43 M602.91,483.23 L602.8,482.1 L602.66,480.66 L602.52,479.23 L602.38,477.79 L602.27,476.73 M601.73,471.53 L601.63,470.62 L601.47,469.18 L601.31,467.75 L601.14,466.31 L600.99,465.03 L600.99,465.03 M600.36,459.83 L600.27,459.13 L600.09,457.7 L599.9,456.26 L599.71,454.83 L599.51,453.39 L599.5,453.33 M598.77,448.13 L598.7,447.65 L598.48,446.22 L598.27,444.78 L598.05,443.35 L597.82,441.91 L597.78,441.63 M596.92,436.43 L596.88,436.17 L596.63,434.74 L596.38,433.3 L596.13,431.87 L595.87,430.43 L595.78,429.93 L595.78,429.93 M594.79,424.73 L594.79,424.69 L594.5,423.25 L594.22,421.82 L593.92,420.38 L593.63,418.95 L593.47,418.23 L593.47,418.23 M592.34,413.03 L592.06,411.77 L591.73,410.34 L591.39,408.9 L591.05,407.47 L590.82,406.53 M589.52,401.33 L589.25,400.29 L588.87,398.86 L588.49,397.42 L588.1,395.99 L587.78,394.83 M586.29,389.63 L586.04,388.81 L585.61,387.37 L585.17,385.94 L584.73,384.5 L584.29,383.13 M582.59,377.93 L582.39,377.33 L581.9,375.89 L581.4,374.46 L580.89,373.02 L580.38,371.59 L580.32,371.43 L580.32,371.43 M578.38,366.23 L578.23,365.85 L577.68,364.41 L577.11,362.98 L576.54,361.54 L575.95,360.11 L575.8,359.73 L575.8,359.73 M573.6,354.53 L573.53,354.36 L572.9,352.93 L572.26,351.49 L571.61,350.06 L570.95,348.62 L570.67,348.03 M568.18,342.83 L567.5,341.45 L566.78,340.01 L566.05,338.58 L565.31,337.14 L564.88,336.33 L564.88,336.33 M562.08,331.13 L561.44,329.97 L560.64,328.53 L559.82,327.1 L558.99,325.66 L558.38,324.63 M555.25,319.43 L554.67,318.48 L553.77,317.05 L552.86,315.61 L551.94,314.18 L551.12,312.93 M547.64,307.73 L547.15,307 L546.15,305.57 L545.15,304.13 L544.13,302.7 L543.1,301.26 L543.07,301.23 L543.07,301.23 M539.23,296.03 L538.85,295.52 L537.76,294.09 L536.66,292.65 L535.54,291.22 L534.42,289.78 L534.21,289.53 M530.02,284.33 L529.79,284.04 L528.6,282.6 L527.41,281.17 L526.2,279.73 L524.98,278.3 L524.57,277.83 L524.57,277.83 M520.05,272.63 L519.99,272.56 L518.71,271.12 L517.43,269.69 L516.13,268.25 L514.83,266.82 L514.19,266.13 M509.37,260.93 L508.15,259.64 L506.79,258.21 L505.42,256.77 L504.04,255.34 L503.16,254.43 M498.08,249.23 L497.02,248.16 L495.6,246.72 L494.16,245.29 L492.72,243.85 L491.59,242.73 L491.59,242.73 M486.31,237.53 L485.44,236.68 L483.96,235.24 L482.49,233.81 L481,232.37 L479.61,231.03 L479.61,231.03 M474.19,225.83 L473.53,225.2 L472.03,223.76 L470.53,222.33 L469.02,220.89 L467.51,219.46 L467.37,219.33 L467.37,219.33 M461.89,214.13 L461.45,213.71 L459.94,212.28 L458.42,210.84 L456.9,209.41 L455.38,207.97 L455.02,207.63"/>
<path stroke-width="0.999" d="M618.07,503.63 L618.02,502.19 L617.97,500.76 L617.95,500.13 M617.75,494.93 L617.7,493.58 L617.64,492.14 L617.57,490.71 L617.51,489.27 L617.47,488.43 M617.22,483.23 L617.16,482.1 L617.09,480.66 L617.01,479.23 L616.93,477.79 L616.87,476.73 M616.56,471.53 L616.5,470.62 L616.4,469.18 L616.31,467.75 L616.21,466.31 L616.12,465.03 L616.12,465.03 M615.73,459.83 L615.67,459.13 L615.56,457.7 L615.44,456.26 L615.32,454.83 L615.2,453.39 L615.19,453.33 M614.73,448.13 L614.68,447.65 L614.55,446.22 L614.41,444.78 L614.26,443.35 L614.12,441.91 L614.09,441.63 M613.53,436.43 L613.5,436.17 L613.34,434.74 L613.17,433.3 L613,431.87 L612.83,430.43 L612.77,429.93 L612.77,429.93 M612.11,424.73 L612.1,424.69 L611.91,423.25 L611.72,421.82 L611.52,420.38 L611.31,418.95 L611.21,418.23 L611.21,418.23 M610.43,413.03 L610.23,411.77 L610,410.34 L609.77,408.9 L609.53,407.47 L609.37,406.53 M608.45,401.33 L608.26,400.29 L608,398.86 L607.72,397.42 L607.44,395.99 L607.22,394.83 M606.15,389.63 L605.97,388.81 L605.66,387.37 L605.35,385.94 L605.02,384.5 L604.71,383.13 M603.47,377.93 L603.32,377.33 L602.96,375.89 L602.59,374.46 L602.22,373.02 L601.84,371.59 L601.8,371.43 L601.8,371.43 M600.36,366.23 L600.26,365.85 L599.84,364.41 L599.42,362.98 L598.99,361.54 L598.56,360.11 L598.44,359.73 L598.44,359.73 M596.79,354.53 L596.74,354.36 L596.26,352.93 L595.78,351.49 L595.29,350.06 L594.79,348.62 L594.58,348.03 M592.69,342.83 L592.17,341.45 L591.62,340.01 L591.06,338.58 L590.49,337.14 L590.16,336.33 L590.16,336.33 M588,331.13 L587.5,329.97 L586.87,328.53 L586.24,327.1 L585.6,325.66 L585.12,324.63 M582.68,319.43 L582.22,318.48 L581.52,317.05 L580.8,315.61 L580.07,314.18 L579.43,312.93 M576.67,307.73 L576.27,307 L575.48,305.57 L574.67,304.13 L573.86,302.7 L573.03,301.26 L573.01,301.23 L573.01,301.23 M569.91,296.03 L569.6,295.52 L568.71,294.09 L567.81,292.65 L566.9,291.22 L565.98,289.78 L565.81,289.53 M562.36,284.33 L562.16,284.04 L561.18,282.6 L560.18,281.17 L559.17,279.73 L558.15,278.3 L557.81,277.83 L557.81,277.83 M554,272.63 L553.95,272.56 L552.86,271.12 L551.77,269.69 L550.66,268.25 L549.54,266.82 L549,266.13 M544.83,260.93 L543.78,259.64 L542.59,258.21 L541.39,256.77 L540.17,255.34 L539.4,254.43 M534.89,249.23 L533.95,248.16 L532.67,246.72 L531.39,245.29 L530.09,243.85 L529.06,242.73 L529.06,242.73 M524.25,237.53 L523.46,236.68 L522.11,235.24 L520.74,233.81 L519.37,232.37 L518.08,231.03 L518.08,231.03 M513.02,225.83 L512.4,225.2 L510.99,223.76 L509.56,222.33 L508.13,220.89 L506.7,219.46 L506.57,219.33 L506.57,219.33 M501.32,214.13 L500.9,213.71 L499.44,212.28 L497.98,210.84 L496.51,209.41 L495.03,207.97 L494.67,207.63 M489.3,202.43 L489.1,202.23 L487.61,200.8 L486.12,199.36 L484.63,197.93 L483.13,196.49 L482.54,195.93 M477.11,190.73 L475.64,189.32 L474.13,187.88 L472.63,186.45 L471.13,185.01 L470.31,184.23 L470.31,184.23"/>
<path stroke-width="0.999" d="M630.25,503.63 L630.25,502.19 L630.24,500.76 L630.24,500.13 M630.21,494.93 L630.2,493.58 L630.19,492.14 L630.17,490.71 L630.16,489.27 L630.15,488.43 M630.08,483.23 L630.07,482.1 L630.04,480.66 L630.02,479.23 L629.99,477.79 L629.97,476.73 M629.84,471.53 L629.82,470.62 L629.78,469.18 L629.74,467.75 L629.69,466.31 L629.65,465.03 L629.65,465.03 M629.47,459.83 L629.44,459.13 L629.38,457.7 L629.33,456.26 L629.27,454.83 L629.2,453.39 L629.2,453.33 M628.96,448.13 L628.93,447.65 L628.86,446.22 L628.78,444.78 L628.71,443.35 L628.63,441.91 L628.61,441.63 M628.29,436.43 L628.28,436.17 L628.18,434.74 L628.09,433.3 L627.99,431.87 L627.89,430.43 L627.85,429.93 L627.85,429.93 M627.45,424.73 L627.45,424.69 L627.33,423.25 L627.21,421.82 L627.09,420.38 L626.97,418.95 L626.9,418.23 L626.9,418.23 M626.41,413.03 L626.29,411.77 L626.14,410.34 L625.99,408.9 L625.83,407.47 L625.73,406.53 M625.13,401.33 L625.01,400.29 L624.83,398.86 L624.65,397.42 L624.46,395.99 L624.31,394.83 M623.59,389.63 L623.47,388.81 L623.26,387.37 L623.05,385.94 L622.82,384.5 L622.61,383.13 M621.75,377.93 L621.65,377.33 L621.39,375.89 L621.14,374.46 L620.88,373.02 L620.61,371.59 L620.58,371.43 L620.58,371.43 M619.56,366.23 L619.49,365.85 L619.19,364.41 L618.89,362.98 L618.58,361.54 L618.27,360.11 L618.18,359.73 L618.18,359.73 M616.99,354.53 L616.95,354.36 L616.61,352.93 L616.26,351.49 L615.9,350.06 L615.53,348.62 L615.38,348.03 M613.99,342.83 L613.6,341.45 L613.19,340.01 L612.78,338.58 L612.36,337.14 L612.11,336.33 L612.11,336.33 M610.49,331.13 L610.12,329.97 L609.65,328.53 L609.17,327.1 L608.69,325.66 L608.33,324.63 M606.48,319.43 L606.14,318.48 L605.6,317.05 L605.05,315.61 L604.5,314.18 L604.01,312.93 M601.88,307.73 L601.58,307 L600.96,305.57 L600.34,304.13 L599.71,302.7 L599.06,301.26 L599.05,301.23 L599.05,301.23 M596.62,296.03 L596.38,295.52 L595.68,294.09 L594.97,292.65 L594.26,291.22 L593.53,289.78 L593.39,289.53 M590.65,284.33 L590.49,284.04 L589.7,282.6 L588.9,281.17 L588.09,279.73 L587.27,278.3 L587,277.83 L587,277.83 M583.9,272.63 L583.86,272.56 L582.98,271.12 L582.09,269.69 L581.18,268.25 L580.26,266.82 L579.81,266.13 M576.36,260.93 L575.48,259.64 L574.49,258.21 L573.48,256.77 L572.46,255.34 L571.81,254.43 M567.99,249.23 L567.19,248.16 L566.1,246.72 L564.99,245.29 L563.88,243.85 L562.99,242.73 L562.99,242.73 M558.81,237.53 L558.12,236.68 L556.93,235.24 L555.73,233.81 L554.53,232.37 L553.38,231.03 L553.38,231.03 M548.87,225.83 L548.31,225.2 L547.04,223.76 L545.76,222.33 L544.46,220.89 L543.16,219.46 L543.04,219.33 L543.04,219.33 M538.24,214.13 L537.85,213.71 L536.5,212.28 L535.15,210.84 L533.78,209.41 L532.41,207.97 L532.07,207.63 M527.03,202.43 L526.84,202.23 L525.43,200.8 L524.01,199.36 L522.59,197.93 L521.16,196.49 L520.6,195.93 M515.38,190.73 L513.95,189.32 L512.49,187.88 L511.03,186.45 L509.57,185.01 L508.77,184.23 L508.77,184.23 M503.43,179.03 L502.21,177.83 L500.73,176.4 L499.25,174.96 L497.77,173.53 L496.73,172.53 L496.73,172.53 M491.35,167.33 L490.35,166.35 L488.86,164.92 L487.38,163.48"/>
<path stroke-width="0.999" d="M641.06,503.63 L641.09,502.19 L641.12,500.76 L641.14,500.13 M641.25,494.93 L641.27,493.58 L641.3,492.14 L641.32,490.71 L641.35,489.27 L641.36,488.43 M641.45,483.23 L641.46,482.1 L641.48,480.66 L641.5,479.23 L641.52,477.79 L641.53,476.73 M641.57,471.53 L641.58,470.62 L641.58,469.18 L641.59,467.75 L641.59,466.31 L641.59,465.03 L641.59,465.03 M641.59,459.83 L641.59,459.13 L641.59,457.7 L641.58,456.26 L641.57,454.83 L641.57,453.39 L641.56,453.33 M641.52,448.13 L641.51,447.65 L641.49,446.22 L641.47,444.78 L641.45,443.35 L641.43,441.91 L641.42,441.63 M641.32,436.43 L641.32,436.17 L641.28,434.74 L641.25,433.3 L641.21,431.87 L641.17,430.43 L641.16,429.93 L641.16,429.93 M640.99,424.73 L640.99,424.69 L640.94,423.25 L640.88,421.82 L640.83,420.38 L640.77,418.95 L640.74,418.23 L640.74,418.23 M640.5,413.03 L640.43,411.77 L640.36,410.34 L640.28,408.9 L640.2,407.47 L640.14,406.53 M639.82,401.33 L639.75,400.29 L639.65,398.86 L639.55,397.42 L639.44,395.99 L639.35,394.83 M638.93,389.63 L638.86,388.81 L638.73,387.37 L638.6,385.94 L638.46,384.5 L638.33,383.13 M637.8,377.93 L637.73,377.33 L637.57,375.89 L637.41,374.46 L637.24,373.02 L637.07,371.59 L637.05,371.43 L637.05,371.43 M636.39,366.23 L636.34,365.85 L636.15,364.41 L635.95,362.98 L635.74,361.54 L635.53,360.11 L635.48,359.73 L635.48,359.73 M634.67,354.53 L634.65,354.36 L634.41,352.93 L634.17,351.49 L633.93,350.06 L633.68,348.62 L633.57,348.03 M632.6,342.83 L632.33,341.45 L632.05,340.01 L631.75,338.58 L631.46,337.14 L631.28,336.33 L631.28,336.33 M630.13,331.13 L629.86,329.97 L629.53,328.53 L629.18,327.1 L628.83,325.66 L628.57,324.63 M627.23,319.43 L626.97,318.48 L626.58,317.05 L626.18,315.61 L625.77,314.18 L625.4,312.93 M623.83,307.73 L623.6,307 L623.14,305.57 L622.67,304.13 L622.2,302.7 L621.71,301.26 L621.7,301.23 L621.7,301.23 M619.87,296.03 L619.69,295.52 L619.15,294.09 L618.62,292.65 L618.07,291.22 L617.51,289.78 L617.41,289.53 M615.29,284.33 L615.17,284.04 L614.56,282.6 L613.94,281.17 L613.31,279.73 L612.67,278.3 L612.46,277.83 L612.46,277.83 M610.04,272.63 L610,272.56 L609.31,271.12 L608.6,269.69 L607.88,268.25 L607.16,266.82 L606.8,266.13 M604.04,260.93 L603.34,259.64 L602.54,258.21 L601.73,256.77 L600.91,255.34 L600.38,254.43 M597.27,249.23 L596.61,248.16 L595.71,246.72 L594.81,245.29 L593.88,243.85 L593.15,242.73 L593.15,242.73 M589.67,237.53 L589.09,236.68 L588.1,235.24 L587.09,233.81 L586.07,232.37 L585.1,231.03 L585.1,231.03 M581.25,225.83 L580.77,225.2 L579.68,223.76 L578.57,222.33 L577.45,220.89 L576.32,219.46 L576.22,219.33 L576.22,219.33 M572.01,214.13 L571.68,213.71 L570.49,212.28 L569.29,210.84 L568.07,209.41 L566.85,207.97 L566.55,207.63 M562.02,202.43 L561.85,202.23 L560.58,200.8 L559.29,199.36 L557.99,197.93 L556.69,196.49 L556.17,195.93 M551.36,190.73 L550.03,189.32 L548.68,187.88 L547.31,186.45 L545.94,185.01 L545.19,184.23 L545.19,184.23 M540.14,179.03 L538.98,177.83 L537.57,176.4 L536.15,174.96 L534.73,173.53 L533.73,172.53 L533.73,172.53 M528.53,167.33 L527.55,166.35 L526.1,164.92 L524.65,163.48 L523.19,162.05 L521.95,160.83 L521.95,160.83 M516.66,155.63 L515.89,154.87 L514.42,153.44 L512.95,152 L511.48,150.57 L510.01,149.13 L510.01,149.13"/>
<path stroke-width="0.999" d="M652,503.63 L652.07,502.19 L652.13,500.76 L652.16,500.13 M652.4,494.93 L652.46,493.58 L652.53,492.14 L652.59,490.71 L652.65,489.27 L652.69,488.43 M652.91,483.23 L652.96,482.1 L653.02,480.66 L653.08,479.23 L653.14,477.79 L653.18,476.73 M653.33,471.53 L653.36,470.62 L653.39,469.18 L653.43,467.75 L653.46,466.31 L653.49,465.03 L653.49,465.03 M653.6,459.83 L653.62,459.13 L653.64,457.7 L653.67,456.26 L653.7,454.83 L653.72,453.39 L653.72,453.33 M653.8,448.13 L653.81,447.65 L653.82,446.22 L653.84,444.78 L653.86,443.35 L653.87,441.91 L653.87,441.63 M653.91,436.43 L653.91,436.17 L653.92,434.74 L653.92,433.3 L653.92,431.87 L653.93,430.43 L653.93,429.93 L653.93,429.93 M653.91,424.73 L653.91,424.69 L653.91,423.25 L653.9,421.82 L653.89,420.38 L653.87,418.95 L653.86,418.23 L653.86,418.23 M653.8,413.03 L653.77,411.77 L653.75,410.34 L653.72,408.9 L653.69,407.47 L653.67,406.53 M653.53,401.33 L653.5,400.29 L653.46,398.86 L653.41,397.42 L653.36,395.99 L653.32,394.83 M653.1,389.63 L653.07,388.81 L653,387.37 L652.93,385.94 L652.85,384.5 L652.78,383.13 M652.48,377.93 L652.44,377.33 L652.35,375.89 L652.25,374.46 L652.15,373.02 L652.05,371.59 L652.04,371.43 L652.04,371.43 M651.63,366.23 L651.6,365.85 L651.48,364.41 L651.36,362.98 L651.23,361.54 L651.09,360.11 L651.06,359.73 L651.06,359.73 M650.54,354.53 L650.52,354.36 L650.37,352.93 L650.21,351.49 L650.04,350.06 L649.88,348.62 L649.8,348.03 M649.15,342.83 L648.97,341.45 L648.77,340.01 L648.57,338.58 L648.36,337.14 L648.24,336.33 L648.24,336.33 M647.44,331.13 L647.25,329.97 L647.01,328.53 L646.77,327.1 L646.53,325.66 L646.35,324.63 M645.43,319.43 L645.25,318.48 L644.98,317.05 L644.7,315.61 L644.41,314.18 L644.15,312.93 M643.03,307.73 L642.87,307 L642.54,305.57 L642.21,304.13 L641.86,302.7 L641.51,301.26 L641.51,301.23 L641.51,301.23 M640.17,296.03 L640.04,295.52 L639.65,294.09 L639.26,292.65 L638.85,291.22 L638.44,289.78 L638.36,289.53 M636.79,284.33 L636.71,284.04 L636.25,282.6 L635.79,281.17 L635.31,279.73 L634.83,278.3 L634.67,277.83 L634.67,277.83 M632.84,272.63 L632.81,272.56 L632.28,271.12 L631.74,269.69 L631.2,268.25 L630.64,266.82 L630.36,266.13 M628.24,260.93 L627.69,259.64 L627.07,258.21 L626.44,256.77 L625.79,255.34 L625.38,254.43 M622.93,249.23 L622.42,248.16 L621.71,246.72 L620.98,245.29 L620.25,243.85 L619.67,242.73 L619.67,242.73 M616.88,237.53 L616.41,236.68 L615.6,235.24 L614.79,233.81 L613.96,232.37 L613.17,231.03 L613.17,231.03 M610.02,225.83 L609.62,225.2 L608.72,223.76 L607.8,222.33 L606.87,220.89 L605.93,219.46 L605.85,219.33 L605.85,219.33 M602.32,214.13 L602.04,213.71 L601.03,212.28 L600.02,210.84 L598.99,209.41 L597.94,207.97 L597.69,207.63 M593.79,202.43 L593.65,202.23 L592.54,200.8 L591.43,199.36 L590.3,197.93 L589.16,196.49 L588.7,195.93 M584.46,190.73 L583.28,189.32 L582.07,187.88 L580.85,186.45 L579.62,185.01 L578.94,184.23 L578.94,184.23 M574.38,179.03 L573.31,177.83 L572.02,176.4 L570.72,174.96 L569.41,173.53 L568.49,172.53 L568.49,172.53 M563.65,167.33 L562.74,166.35 L561.38,164.92 L560.01,163.48 L558.64,162.05 L557.47,160.83 L557.47,160.83 M552.42,155.63 L551.68,154.87 L550.27,153.44 L548.86,152 L547.44,150.57 L546.02,149.13 L546.01,149.13 M540.83,143.93 L540.29,143.39 L538.85,141.95 L537.4,140.52 L535.96,139.08 L534.51,137.65 L534.29,137.43 M529.03,132.23 L528.7,131.91 L527.25,130.47 L525.79,129.04 L524.34,127.6 L522.88,126.17"/>
<path stroke-width="0.999" d="M662.06,503.63 L662.16,502.19 L662.26,500.76 L662.3,500.13 M662.65,494.93 L662.74,493.58 L662.84,492.14 L662.94,490.71 L663.03,489.27 L663.09,488.43 M663.43,483.23 L663.5,482.1 L663.6,480.66 L663.69,479.23 L663.78,477.79 L663.85,476.73 M664.1,471.53 L664.14,470.62 L664.2,469.18 L664.26,467.75 L664.31,466.31 L664.37,465.03 L664.37,465.03 M664.57,459.83 L664.6,459.13 L664.65,457.7 L664.7,456.26 L664.76,454.83 L664.81,453.39 L664.81,453.33 M664.99,448.13 L665.01,447.65 L665.06,446.22 L665.1,444.78 L665.15,443.35 L665.19,441.91 L665.2,441.63 M665.35,436.43 L665.36,436.17 L665.4,434.74 L665.44,433.3 L665.47,431.87 L665.51,430.43 L665.52,429.93 L665.52,429.93 M665.64,424.73 L665.64,424.69 L665.67,423.25 L665.69,421.82 L665.72,420.38 L665.75,418.95 L665.76,418.23 L665.76,418.23 M665.83,413.03 L665.84,411.77 L665.86,410.34 L665.87,408.9 L665.88,407.47 L665.89,406.53 M665.91,401.33 L665.91,400.29 L665.91,398.86 L665.91,397.42 L665.9,395.99 L665.9,394.83 M665.86,389.63 L665.85,388.81 L665.83,387.37 L665.81,385.94 L665.79,384.5 L665.77,383.13 M665.65,377.93 L665.64,377.33 L665.6,375.89 L665.56,374.46 L665.52,373.02 L665.47,371.59 L665.47,371.43 L665.47,371.43 M665.27,366.23 L665.26,365.85 L665.2,364.41 L665.13,362.98 L665.07,361.54 L664.99,360.11 L664.98,359.73 L664.98,359.73 M664.69,354.53 L664.68,354.36 L664.59,352.93 L664.5,351.49 L664.41,350.06 L664.31,348.62 L664.26,348.03 M663.87,342.83 L663.76,341.45 L663.63,340.01 L663.51,338.58 L663.38,337.14 L663.3,336.33 L663.3,336.33 M662.78,331.13 L662.66,329.97 L662.5,328.53 L662.35,327.1 L662.2,325.66 L662.09,324.63 M661.51,319.43 L661.4,318.48 L661.23,317.05 L661.05,315.61 L660.86,314.18 L660.69,312.93 M659.96,307.73 L659.85,307 L659.63,305.57 L659.41,304.13 L659.18,302.7 L658.94,301.26 L658.93,301.23 L658.93,301.23 M658.02,296.03 L657.93,295.52 L657.66,294.09 L657.38,292.65 L657.1,291.22 L656.81,289.78 L656.76,289.53 M655.65,284.33 L655.59,284.04 L655.26,282.6 L654.93,281.17 L654.59,279.73 L654.24,278.3 L654.13,277.83 L654.13,277.83 M652.79,272.63 L652.78,272.56 L652.39,271.12 L651.99,269.69 L651.59,268.25 L651.18,266.82 L650.98,266.13 M649.39,260.93 L648.99,259.64 L648.52,258.21 L648.05,256.77 L647.56,255.34 L647.25,254.43 M645.39,249.23 L645,248.16 L644.45,246.72 L643.9,245.29 L643.34,243.85 L642.88,242.73 L642.88,242.73 M640.72,237.53 L640.36,236.68 L639.73,235.24 L639.09,233.81 L638.44,232.37 L637.82,231.03 L637.82,231.03 M635.33,225.83 L635.02,225.2 L634.3,223.76 L633.57,222.33 L632.82,220.89 L632.07,219.46 L632,219.33 L632,219.33 M629.16,214.13 L628.92,213.71 L628.11,212.28 L627.28,210.84 L626.44,209.41 L625.58,207.97 L625.37,207.63 M622.16,202.43 L622.04,202.23 L621.12,200.8 L620.19,199.36 L619.24,197.93 L618.29,196.49 L617.91,195.93 M614.32,190.73 L613.32,189.32 L612.28,187.88 L611.24,186.45 L610.18,185.01 L609.59,184.23 L609.59,184.23 M605.64,179.03 L604.71,177.83 L603.58,176.4 L602.43,174.96 L601.28,173.53 L600.46,172.53 L600.46,172.53 M596.16,167.33 L595.34,166.35 L594.11,164.92 L592.88,163.48 L591.64,162.05 L590.57,160.83 L590.57,160.83 M585.96,155.63 L585.28,154.87 L583.98,153.44 L582.67,152 L581.36,150.57 L580.03,149.13 L580.03,149.13 M575.16,143.93 L574.65,143.39 L573.29,141.95 L571.92,140.52 L570.54,139.08 L569.16,137.65 L568.95,137.43 M563.89,132.23 L563.58,131.91 L562.18,130.47 L560.76,129.04 L559.35,127.6 L557.93,126.17 L557.49,125.73 M552.32,120.53 L552.22,120.43 L550.79,118.99 L549.36,117.56 L547.92,116.12 L546.48,114.69 L545.82,114.03 L545.82,114.03 M540.6,108.83 L539.28,107.51"/>
<path stroke-width="0.999" d="M670.81,503.63 L670.93,502.19 L671.05,500.76 L671.11,500.13 M671.55,494.93 L671.66,493.58 L671.79,492.14 L671.91,490.71 L672.03,489.27 L672.1,488.43 M672.54,483.23 L672.64,482.1 L672.76,480.66 L672.88,479.23 L673,477.79 L673.09,476.73 M673.43,471.53 L673.48,470.62 L673.57,469.18 L673.66,467.75 L673.74,466.31 L673.82,465.03 L673.82,465.03 M674.12,459.83 L674.16,459.13 L674.24,457.7 L674.32,456.26 L674.4,454.83 L674.49,453.39 L674.49,453.33 M674.78,448.13 L674.8,447.65 L674.88,446.22 L674.96,444.78 L675.04,443.35 L675.11,441.91 L675.13,441.63 M675.4,436.43 L675.41,436.17 L675.48,434.74 L675.55,433.3 L675.62,431.87 L675.69,430.43 L675.72,429.93 L675.72,429.93 M675.96,424.73 L675.96,424.69 L676.03,423.25 L676.09,421.82 L676.15,420.38 L676.21,418.95 L676.24,418.23 L676.24,418.23 M676.45,413.03 L676.5,411.77 L676.56,410.34 L676.61,408.9 L676.66,407.47 L676.69,406.53 M676.87,401.33 L676.9,400.29 L676.94,398.86 L676.98,397.42 L677.02,395.99 L677.05,394.83 M677.18,389.63 L677.19,388.81 L677.22,387.37 L677.25,385.94 L677.27,384.5 L677.3,383.13 M677.37,377.93 L677.37,377.33 L677.38,375.89 L677.4,374.46 L677.4,373.02 L677.41,371.59 L677.41,371.43 L677.41,371.43 M677.41,366.23 L677.41,365.85 L677.41,364.41 L677.4,362.98 L677.39,361.54 L677.38,360.11 L677.37,359.73 L677.37,359.73 M677.3,354.53 L677.3,354.36 L677.27,352.93 L677.24,351.49 L677.21,350.06 L677.17,348.62 L677.16,348.03 M677,342.83 L676.95,341.45 L676.89,340.01 L676.84,338.58 L676.78,337.14 L676.74,336.33 L676.74,336.33 M676.48,331.13 L676.41,329.97 L676.33,328.53 L676.25,327.1 L676.18,325.66 L676.13,324.63 M675.84,319.43 L675.79,318.48 L675.69,317.05 L675.6,315.61 L675.5,314.18 L675.4,312.93 M674.99,307.73 L674.93,307 L674.8,305.57 L674.66,304.13 L674.53,302.7 L674.38,301.26 L674.38,301.23 L674.38,301.23 M673.82,296.03 L673.76,295.52 L673.59,294.09 L673.42,292.65 L673.24,291.22 L673.05,289.78 L673.02,289.53 M672.29,284.33 L672.25,284.04 L672.03,282.6 L671.81,281.17 L671.59,279.73 L671.35,278.3 L671.27,277.83 L671.27,277.83 M670.36,272.63 L670.35,272.56 L670.08,271.12 L669.81,269.69 L669.53,268.25 L669.24,266.82 L669.1,266.13 M667.98,260.93 L667.69,259.64 L667.36,258.21 L667.01,256.77 L666.67,255.34 L666.44,254.43 M665.09,249.23 L664.8,248.16 L664.4,246.72 L663.99,245.29 L663.58,243.85 L663.24,242.73 L663.24,242.73 M661.63,237.53 L661.36,236.68 L660.88,235.24 L660.4,233.81 L659.91,232.37 L659.44,231.03 L659.44,231.03 M657.54,225.83 L657.3,225.2 L656.75,223.76 L656.18,222.33 L655.61,220.89 L655.02,219.46 L654.97,219.33 L654.97,219.33 M652.75,214.13 L652.57,213.71 L651.93,212.28 L651.28,210.84 L650.62,209.41 L649.94,207.97 L649.77,207.63 M647.22,202.43 L647.12,202.23 L646.38,200.8 L645.64,199.36 L644.88,197.93 L644.1,196.49 L643.8,195.93 M640.88,190.73 L640.06,189.32 L639.21,187.88 L638.35,186.45 L637.47,185.01 L636.99,184.23 L636.99,184.23 M633.69,179.03 L632.91,177.83 L631.96,176.4 L631,174.96 L630.02,173.53 L629.33,172.53 L629.33,172.53 M625.65,167.33 L624.95,166.35 L623.9,164.92 L622.83,163.48 L621.75,162.05 L620.82,160.83 L620.82,160.83 M616.78,155.63 L616.18,154.87 L615.03,153.44 L613.87,152 L612.7,150.57 L611.51,149.13 L611.51,149.13 M607.13,143.93 L606.67,143.39 L605.43,141.95 L604.19,140.52 L602.93,139.08 L601.66,137.65 L601.46,137.43 M596.79,132.23 L596.51,131.91 L595.19,130.47 L593.88,129.04 L592.55,127.6 L591.21,126.17 L590.8,125.73 M585.9,120.53 L585.81,120.43 L584.44,118.99 L583.07,117.56 L581.69,116.12 L580.31,114.69 L579.67,114.03 L579.67,114.03 M574.61,108.83 L573.32,107.51 L571.91,106.07 L570.5,104.64 L569.08,103.2 L568.22,102.33 L568.22,102.33 M563.07,97.13 L561.98,96.03 L560.55,94.59 L559.12,93.16 L557.7,91.72 L556.61,90.63"/>
<path stroke-width="0.999" d="M679.49,503.63 L679.63,502.19 L679.78,500.76 L679.84,500.13 M680.37,494.93 L680.51,493.58 L680.65,492.14 L680.8,490.71 L680.95,489.27 L681.03,488.43 M681.56,483.23 L681.68,482.1 L681.82,480.66 L681.97,479.23 L682.12,477.79 L682.23,476.73 M682.63,471.53 L682.7,470.62 L682.8,469.18 L682.9,467.75 L683,466.31 L683.09,465.03 L683.09,465.03 M683.45,459.83 L683.5,459.13 L683.6,457.7 L683.7,456.26 L683.8,454.83 L683.9,453.39 L683.91,453.33 M684.27,448.13 L684.3,447.65 L684.4,446.22 L684.49,444.78 L684.59,443.35 L684.69,441.91 L684.71,441.63 M685.05,436.43 L685.07,436.17 L685.17,434.74 L685.26,433.3 L685.35,431.87 L685.45,430.43 L685.48,429.93 L685.48,429.93 M685.81,424.73 L685.81,424.69 L685.9,423.25 L685.99,421.82 L686.08,420.38 L686.16,418.95 L686.21,418.23 L686.21,418.23 M686.52,413.03 L686.59,411.77 L686.67,410.34 L686.75,408.9 L686.83,407.47 L686.88,406.53 M687.16,401.33 L687.22,400.29 L687.29,398.86 L687.36,397.42 L687.43,395.99 L687.49,394.83 M687.73,389.63 L687.77,388.81 L687.83,387.37 L687.9,385.94 L687.96,384.5 L688.01,383.13 M688.21,377.93 L688.23,377.33 L688.28,375.89 L688.33,374.46 L688.38,373.02 L688.43,371.59 L688.43,371.43 L688.43,371.43 M688.58,366.23 L688.59,365.85 L688.63,364.41 L688.66,362.98 L688.69,361.54 L688.72,360.11 L688.73,359.73 L688.73,359.73 M688.82,354.53 L688.82,354.36 L688.84,352.93 L688.86,351.49 L688.87,350.06 L688.88,348.62 L688.89,348.03 M688.91,342.83 L688.91,341.45 L688.9,340.01 L688.9,338.58 L688.89,337.14 L688.88,336.33 L688.88,336.33 M688.82,331.13 L688.8,329.97 L688.77,328.53 L688.75,327.1 L688.75,325.66 L688.74,324.63 M688.7,319.43 L688.69,318.48 L688.67,317.05 L688.64,315.61 L688.61,314.18 L688.58,312.93 M688.43,307.73 L688.41,307 L688.36,305.57 L688.3,304.13 L688.24,302.7 L688.18,301.26 L688.17,301.23 L688.17,301.23 M687.91,296.03 L687.88,295.52 L687.79,294.09 L687.7,292.65 L687.61,291.22 L687.51,289.78 L687.49,289.53 M687.09,284.33 L687.06,284.04 L686.94,282.6 L686.81,281.17 L686.68,279.73 L686.54,278.3 L686.49,277.83 L686.49,277.83 M685.94,272.63 L685.93,272.56 L685.76,271.12 L685.59,269.69 L685.41,268.25 L685.23,266.82 L685.13,266.13 M684.41,260.93 L684.21,259.64 L683.99,258.21 L683.76,256.77 L683.53,255.34 L683.38,254.43 M682.45,249.23 L682.25,248.16 L681.98,246.72 L681.69,245.29 L681.4,243.85 L681.17,242.73 L681.17,242.73 M680.02,237.53 L679.83,236.68 L679.49,235.24 L679.14,233.81 L678.79,232.37 L678.44,231.03 L678.44,231.03 M677.06,225.83 L676.88,225.2 L676.47,223.76 L676.06,222.33 L675.63,220.89 L675.19,219.46 L675.15,219.33 L675.15,219.33 M673.49,214.13 L673.36,213.71 L672.87,212.28 L672.38,210.84 L671.87,209.41 L671.36,207.97 L671.23,207.63 M669.27,202.43 L669.19,202.23 L668.62,200.8 L668.04,199.36 L667.45,197.93 L666.85,196.49 L666.61,195.93 M664.32,190.73 L663.67,189.32 L663,187.88 L662.32,186.45 L661.62,185.01 L661.23,184.23 L661.23,184.23 M658.59,179.03 L657.96,177.83 L657.19,176.4 L656.41,174.96 L655.61,173.53 L655.05,172.53 L655.05,172.53 M652.02,167.33 L651.44,166.35 L650.57,164.92 L649.68,163.48 L648.79,162.05 L648.01,160.83 L648.01,160.83 M644.61,155.63 L644.1,154.87 L643.12,153.44 L642.13,152 L641.13,150.57 L640.12,149.13 L640.11,149.13 M636.33,143.93 L635.93,143.39 L634.85,141.95 L633.76,140.52 L632.66,139.08 L631.55,137.65 L631.37,137.43 M627.23,132.23 L626.97,131.91 L625.8,130.47 L624.62,129.04 L623.42,127.6 L622.22,126.17 L621.85,125.73 M617.38,120.53 L617.3,120.43 L616.04,118.99 L614.78,117.56 L613.5,116.12 L612.22,114.69 L611.63,114.03 L611.63,114.03 M606.9,108.83 L605.69,107.51 L604.36,106.07 L603.02,104.64 L601.67,103.2 L600.85,102.33 L600.85,102.33 M595.92,97.13 L594.87,96.03 L593.49,94.59 L592.11,93.16 L590.72,91.72 L589.66,90.63 M584.6,85.43 L583.74,84.55 L582.34,83.11 L580.93,81.68 L579.52,80.24 L578.23,78.93"/>
<path stroke-width="0.999" d="M686.96,503.63 L687.12,502.19 L687.28,500.76 L687.36,500.13 M687.95,494.93 L688.11,493.58 L688.27,492.14 L688.44,490.71 L688.6,489.27 L688.7,488.43 M689.31,483.23 L689.44,482.1 L689.6,480.66 L689.77,479.23 L689.94,477.79 L690.06,476.73 M690.54,471.53 L690.62,470.62 L690.74,469.18 L690.86,467.75 L690.98,466.31 L691.09,465.03 L691.09,465.03 M691.53,459.83 L691.59,459.13 L691.71,457.7 L691.84,456.26 L691.96,454.83 L692.08,453.39 L692.08,453.33 M692.53,448.13 L692.57,447.65 L692.69,446.22 L692.81,444.78 L692.93,443.35 L693.05,441.91 L693.08,441.63 M693.51,436.43 L693.53,436.17 L693.65,434.74 L693.77,433.3 L693.89,431.87 L694.01,430.43 L694.05,429.93 L694.05,429.93 M694.48,424.73 L694.48,424.69 L694.6,423.25 L694.71,421.82 L694.83,420.38 L694.95,418.95 L695,418.23 L695,418.23 M695.42,413.03 L695.51,411.77 L695.63,410.34 L695.74,408.9 L695.85,407.47 L695.92,406.53 M696.31,401.33 L696.39,400.29 L696.49,398.86 L696.6,397.42 L696.7,395.99 L696.79,394.83 M697.15,389.63 L697.21,388.81 L697.31,387.37 L697.4,385.94 L697.5,384.5 L697.59,383.13 M697.92,377.93 L697.96,377.33 L698.05,375.89 L698.14,374.46 L698.22,373.02 L698.31,371.59 L698.32,371.43 L698.32,371.43 M698.61,366.23 L698.63,365.85 L698.71,364.41 L698.78,362.98 L698.86,361.54 L698.93,360.11 L698.95,359.73 L698.95,359.73 M699.19,354.53 L699.2,354.36 L699.26,352.93 L699.33,351.49 L699.39,350.06 L699.44,348.62 L699.47,348.03 M699.66,342.83 L699.7,341.45 L699.75,340.01 L699.79,338.58 L699.83,337.14 L699.85,336.33 L699.85,336.33 M699.98,331.13 L700,329.97 L700.03,328.53 L700.06,327.1 L700.12,325.66 L700.15,324.63 M700.31,319.43 L700.34,318.48 L700.38,317.05 L700.41,315.61 L700.44,314.18 L700.47,312.93 M700.54,307.73 L700.55,307 L700.56,305.57 L700.57,304.13 L700.58,302.7 L700.58,301.26 L700.58,301.23 L700.58,301.23 M700.56,296.03 L700.55,295.52 L700.54,294.09 L700.52,292.65 L700.5,291.22 L700.47,289.78 L700.47,289.53 M700.33,284.33 L700.33,284.04 L700.28,282.6 L700.23,281.17 L700.17,279.73 L700.11,278.3 L700.09,277.83 L700.09,277.83 M699.84,272.63 L699.83,272.56 L699.75,271.12 L699.66,269.69 L699.57,268.25 L699.47,266.82 L699.43,266.13 M699.02,260.93 L698.92,259.64 L698.79,258.21 L698.65,256.77 L698.52,255.34 L698.42,254.43 M697.86,249.23 L697.74,248.16 L697.56,246.72 L697.38,245.29 L697.2,243.85 L697.05,242.73 L697.05,242.73 M696.3,237.53 L696.17,236.68 L695.94,235.24 L695.71,233.81 L695.47,232.37 L695.24,231.03 L695.24,231.03 M694.29,225.83 L694.17,225.2 L693.88,223.76 L693.59,222.33 L693.29,220.89 L692.98,219.46 L692.95,219.33 L692.95,219.33 M691.77,214.13 L691.67,213.71 L691.32,212.28 L690.96,210.84 L690.6,209.41 L690.22,207.97 L690.13,207.63 M688.68,202.43 L688.63,202.23 L688.21,200.8 L687.78,199.36 L687.34,197.93 L686.88,196.49 L686.7,195.93 M684.97,190.73 L684.48,189.32 L683.97,187.88 L683.44,186.45 L682.91,185.01 L682.61,184.23 L682.61,184.23 M680.56,179.03 L680.07,177.83 L679.47,176.4 L678.86,174.96 L678.23,173.53 L677.79,172.53 L677.79,172.53 M675.4,167.33 L674.93,166.35 L674.24,164.92 L673.53,163.48 L672.8,162.05 L672.18,160.83 L672.18,160.83 M669.42,155.63 L669.01,154.87 L668.21,153.44 L667.4,152 L666.57,150.57 L665.74,149.13 L665.73,149.13 M662.59,143.93 L662.26,143.39 L661.36,141.95 L660.44,140.52 L659.51,139.08 L658.57,137.65 L658.42,137.43 M654.89,132.23 L654.67,131.91 L653.67,130.47 L652.65,129.04 L651.61,127.6 L650.57,126.17 L650.24,125.73 M646.34,120.53 L646.27,120.43 L645.16,118.99 L644.04,117.56 L642.91,116.12 L641.77,114.69 L641.24,114.03 L641.24,114.03 M636.99,108.83 L635.89,107.51 L634.68,106.07 L633.47,104.64 L632.24,103.2 L631.48,102.33 L631.48,102.33 M626.93,97.13 L625.96,96.03 L624.67,94.59 L623.38,93.16 L622.08,91.72 L621.08,90.63 M616.3,85.43 L615.48,84.55 L614.14,83.11 L612.79,81.68 L611.44,80.24 L610.19,78.93"/>
<path stroke-width="0.999" d="M694.43,503.63 L694.61,502.19 L694.79,500.76 L694.87,500.13 M695.53,494.93 L695.7,493.58 L695.89,492.14 L696.07,490.71 L696.26,489.27 L696.36,488.43 M697.04,483.23 L697.18,482.1 L697.37,480.66 L697.56,479.23 L697.74,477.79 L697.88,476.73 M698.41,471.53 L698.49,470.62 L698.63,469.18 L698.76,467.75 L698.89,466.31 L699.01,465.03 L699.01,465.03 M699.5,459.83 L699.57,459.13 L699.7,457.7 L699.84,456.26 L699.97,454.83 L700.11,453.39 L700.12,453.33 M700.61,448.13 L700.65,447.65 L700.79,446.22 L700.93,444.78 L701.06,443.35 L701.2,441.91 L701.23,441.63 M701.72,436.43 L701.75,436.17 L701.88,434.74 L702.02,433.3 L702.16,431.87 L702.29,430.43 L702.34,429.93 L702.34,429.93 M702.83,424.73 L702.84,424.69 L702.97,423.25 L703.11,421.82 L703.24,420.38 L703.38,418.95 L703.44,418.23 L703.44,418.23 M703.93,413.03 L704.04,411.77 L704.18,410.34 L704.31,408.9 L704.44,407.47 L704.53,406.53 M705,401.33 L705.09,400.29 L705.22,398.86 L705.35,397.42 L705.48,395.99 L705.58,394.83 M706.03,389.63 L706.1,388.81 L706.23,387.37 L706.35,385.94 L706.47,384.5 L706.59,383.13 M707.02,377.93 L707.06,377.33 L707.18,375.89 L707.3,374.46 L707.41,373.02 L707.52,371.59 L707.54,371.43 L707.54,371.43 M707.94,366.23 L707.97,365.85 L708.07,364.41 L708.18,362.98 L708.28,361.54 L708.39,360.11 L708.42,359.73 L708.42,359.73 M708.78,354.53 L708.79,354.36 L708.89,352.93 L708.98,351.49 L709.08,350.06 L709.17,348.62 L709.21,348.03 M709.53,342.83 L709.61,341.45 L709.69,340.01 L709.77,338.58 L709.85,337.14 L709.89,336.33 L709.89,336.33 M710.16,331.13 L710.22,329.97 L710.29,328.53 L710.36,327.1 L710.46,325.66 L710.53,324.63 M710.87,319.43 L710.93,318.48 L711.02,317.05 L711.1,315.61 L711.18,314.18 L711.25,312.93 M711.52,307.73 L711.56,307 L711.62,305.57 L711.69,304.13 L711.75,302.7 L711.81,301.26 L711.81,301.23 L711.81,301.23 M712,296.03 L712.01,295.52 L712.06,294.09 L712.1,292.65 L712.14,291.22 L712.17,289.78 L712.18,289.53 M712.28,284.33 L712.28,284.04 L712.3,282.6 L712.31,281.17 L712.33,279.73 L712.33,278.3 L712.34,277.83 L712.34,277.83 M712.33,272.63 L712.33,272.56 L712.32,271.12 L712.3,269.69 L712.28,268.25 L712.26,266.82 L712.25,266.13 M712.12,260.93 L712.08,259.64 L712.04,258.21 L711.98,256.77 L711.92,255.34 L711.89,254.43 M711.63,249.23 L711.56,248.16 L711.48,246.72 L711.39,245.29 L711.29,243.85 L711.21,242.73 L711.21,242.73 M710.8,237.53 L710.72,236.68 L710.59,235.24 L710.46,233.81 L710.31,232.37 L710.18,231.03 L710.18,231.03 M709.59,225.83 L709.51,225.2 L709.33,223.76 L709.15,222.33 L708.96,220.89 L708.76,219.46 L708.74,219.33 L708.74,219.33 M707.96,214.13 L707.89,213.71 L707.66,212.28 L707.42,210.84 L707.17,209.41 L706.91,207.97 L706.85,207.63 M705.85,202.43 L705.81,202.23 L705.52,200.8 L705.21,199.36 L704.9,197.93 L704.58,196.49 L704.45,195.93 M703.2,190.73 L702.85,189.32 L702.47,187.88 L702.09,186.45 L701.7,185.01 L701.48,184.23 L701.48,184.23 M699.96,179.03 L699.59,177.83 L699.14,176.4 L698.68,174.96 L698.21,173.53 L697.87,172.53 L697.87,172.53 M696.04,167.33 L695.69,166.35 L695.15,164.92 L694.6,163.48 L694.04,162.05 L693.56,160.83 L693.56,160.83 M691.4,155.63 L691.08,154.87 L690.45,153.44 L689.81,152 L689.15,150.57 L688.49,149.13 L688.48,149.13 M685.97,143.93 L685.7,143.39 L684.97,141.95 L684.23,140.52 L683.48,139.08 L682.71,137.65 L682.59,137.43 M679.69,132.23 L679.51,131.91 L678.68,130.47 L677.84,129.04 L676.98,127.6 L676.11,126.17 L675.83,125.73 M672.55,120.53 L672.49,120.43 L671.55,118.99 L670.6,117.56 L669.63,116.12 L668.66,114.69 L668.2,114.03 L668.2,114.03 M664.53,108.83 L663.58,107.51 L662.52,106.07 L661.46,104.64 L660.38,103.2 L659.71,102.33 L659.71,102.33 M655.68,97.13 L654.81,96.03 L653.66,94.59 L652.5,93.16 L651.32,91.72 L650.42,90.63 M646.06,85.43 L645.31,84.55 L644.07,83.11 L642.83,81.68 L641.58,80.24 L640.42,78.93"/>
<path stroke-width="0.999" d="M701.26,503.63 L701.46,502.19 L701.66,500.76 L701.74,500.13 M702.46,494.93 L702.64,493.58 L702.84,492.14 L703.04,490.71 L703.24,489.27 L703.36,488.43 M704.09,483.23 L704.25,482.1 L704.46,480.66 L704.66,479.23 L704.86,477.79 L705.02,476.73 M705.59,471.53 L705.68,470.62 L705.83,469.18 L705.97,467.75 L706.12,466.31 L706.25,465.03 L706.25,465.03 M706.78,459.83 L706.85,459.13 L707,457.7 L707.15,456.26 L707.3,454.83 L707.45,453.39 L707.46,453.33 M708,448.13 L708.05,447.65 L708.2,446.22 L708.36,444.78 L708.51,443.35 L708.66,441.91 L708.69,441.63 M709.24,436.43 L709.27,436.17 L709.42,434.74 L709.57,433.3 L709.72,431.87 L709.88,430.43 L709.93,429.93 L709.93,429.93 M710.49,424.73 L710.49,424.69 L710.64,423.25 L710.79,421.82 L710.95,420.38 L711.1,418.95 L711.18,418.23 L711.18,418.23 M711.73,413.03 L711.86,411.77 L712.01,410.34 L712.17,408.9 L712.32,407.47 L712.42,406.53 M712.96,401.33 L713.07,400.29 L713.22,398.86 L713.37,397.42 L713.52,395.99 L713.64,394.83 M714.18,389.63 L714.26,388.81 L714.41,387.37 L714.55,385.94 L714.7,384.5 L714.84,383.13 M715.36,377.93 L715.42,377.33 L715.56,375.89 L715.7,374.46 L715.84,373.02 L715.98,371.59 L715.99,371.43 L715.99,371.43 M716.49,366.23 L716.53,365.85 L716.66,364.41 L716.8,362.98 L716.93,361.54 L717.06,360.11 L717.1,359.73 L717.1,359.73 M717.57,354.53 L717.58,354.36 L717.71,352.93 L717.84,351.49 L717.96,350.06 L718.08,348.62 L718.14,348.03 M718.57,342.83 L718.68,341.45 L718.8,340.01 L718.91,338.58 L719.03,337.14 L719.09,336.33 L719.09,336.33 M719.49,331.13 L719.57,329.97 L719.68,328.53 L719.79,327.1 L719.93,325.66 L720.03,324.63 M720.52,319.43 L720.61,318.48 L720.74,317.05 L720.86,315.61 L720.99,314.18 L721.1,312.93 M721.53,307.73 L721.59,307 L721.7,305.57 L721.81,304.13 L721.92,302.7 L722.03,301.26 L722.03,301.23 L722.03,301.23 M722.4,296.03 L722.44,295.52 L722.53,294.09 L722.62,292.65 L722.71,291.22 L722.8,289.78 L722.82,289.53 M723.11,284.33 L723.12,284.04 L723.2,282.6 L723.27,281.17 L723.34,279.73 L723.4,278.3 L723.42,277.83 L723.42,277.83 M723.63,272.63 L723.63,272.56 L723.68,271.12 L723.73,269.69 L723.77,268.25 L723.81,266.82 L723.83,266.13 M723.94,260.93 L723.96,259.64 L723.98,258.21 L723.99,256.77 L724,255.34 L724.01,254.43 M724,249.23 L724,248.16 L723.98,246.72 L723.97,245.29 L723.94,243.85 L723.92,242.73 L723.92,242.73 M723.79,237.53 L723.77,236.68 L723.72,235.24 L723.66,233.81 L723.6,232.37 L723.54,231.03 L723.54,231.03 M723.27,225.83 L723.23,225.2 L723.14,223.76 L723.04,222.33 L722.94,220.89 L722.84,219.46 L722.83,219.33 L722.83,219.33 M722.39,214.13 L722.35,213.71 L722.21,212.28 L722.07,210.84 L721.92,209.41 L721.77,207.97 L721.73,207.63 M721.11,202.43 L721.08,202.23 L720.89,200.8 L720.7,199.36 L720.49,197.93 L720.29,196.49 L720.2,195.93 M719.37,190.73 L719.13,189.32 L718.87,187.88 L718.61,186.45 L718.34,185.01 L718.19,184.23 L718.19,184.23 M717.12,179.03 L716.86,177.83 L716.54,176.4 L716.21,174.96 L715.87,173.53 L715.63,172.53 L715.63,172.53 M714.3,167.33 L714.04,166.35 L713.65,164.92 L713.24,163.48 L712.83,162.05 L712.46,160.83 L712.46,160.83 M710.84,155.63 L710.6,154.87 L710.12,153.44 L709.63,152 L709.14,150.57 L708.63,149.13 L708.63,149.13 M706.68,143.93 L706.48,143.39 L705.91,141.95 L705.33,140.52 L704.74,139.08 L704.14,137.65 L704.04,137.43 M701.75,132.23 L701.61,131.91 L700.95,130.47 L700.27,129.04 L699.58,127.6 L698.88,126.17 L698.66,125.73 M696,120.53 L695.95,120.43 L695.18,118.99 L694.4,117.56 L693.61,116.12 L692.81,114.69 L692.43,114.03 L692.43,114.03 M689.38,108.83 L688.58,107.51 L687.7,106.07 L686.8,104.64 L685.89,103.2 L685.32,102.33 L685.32,102.33 M681.88,97.13 L681.13,96.03 L680.14,94.59 L679.14,93.16 L678.12,91.72 L677.33,90.63 M673.51,85.43 L672.85,84.55 L671.76,83.11 L670.65,81.68 L669.54,80.24 L668.5,78.93"/>
<path stroke-width="0.999" d="M707.6,503.63 L707.81,502.19 L708.02,500.76 L708.11,500.13 M708.87,494.93 L709.07,493.58 L709.28,492.14 L709.5,490.71 L709.71,489.27 L709.84,488.43 M710.62,483.23 L710.79,482.1 L711.01,480.66 L711.23,479.23 L711.45,477.79 L711.61,476.73 M712.23,471.53 L712.33,470.62 L712.48,469.18 L712.64,467.75 L712.8,466.31 L712.94,465.03 L712.94,465.03 M713.52,459.83 L713.59,459.13 L713.76,457.7 L713.92,456.26 L714.08,454.83 L714.24,453.39 L714.25,453.33 M714.84,448.13 L714.9,447.65 L715.06,446.22 L715.23,444.78 L715.39,443.35 L715.56,441.91 L715.59,441.63 M716.19,436.43 L716.22,436.17 L716.39,434.74 L716.56,433.3 L716.73,431.87 L716.89,430.43 L716.95,429.93 L716.95,429.93 M717.56,424.73 L717.57,424.69 L717.74,423.25 L717.91,421.82 L718.08,420.38 L718.25,418.95 L718.33,418.23 L718.33,418.23 M718.95,413.03 L719.09,411.77 L719.26,410.34 L719.43,408.9 L719.6,407.47 L719.71,406.53 M720.33,401.33 L720.45,400.29 L720.62,398.86 L720.79,397.42 L720.96,395.99 L721.09,394.83 M721.7,389.63 L721.8,388.81 L721.97,387.37 L722.13,385.94 L722.3,384.5 L722.46,383.13 M723.06,377.93 L723.13,377.33 L723.29,375.89 L723.46,374.46 L723.62,373.02 L723.78,371.59 L723.8,371.43 L723.8,371.43 M724.39,366.23 L724.43,365.85 L724.59,364.41 L724.75,362.98 L724.91,361.54 L725.07,360.11 L725.11,359.73 L725.11,359.73 M725.67,354.53 L725.69,354.36 L725.84,352.93 L726,351.49 L726.15,350.06 L726.3,348.62 L726.36,348.03 M726.9,342.83 L727.05,341.45 L727.19,340.01 L727.34,338.58 L727.48,337.14 L727.56,336.33 L727.56,336.33 M728.07,331.13 L728.18,329.97 L728.32,328.53 L728.46,327.1 L728.64,325.66 L728.76,324.63 M729.38,319.43 L729.49,318.48 L729.66,317.05 L729.83,315.61 L729.99,314.18 L730.13,312.93 M730.71,307.73 L730.79,307 L730.94,305.57 L731.09,304.13 L731.24,302.7 L731.39,301.26 L731.39,301.23 L731.39,301.23 M731.92,296.03 L731.97,295.52 L732.1,294.09 L732.24,292.65 L732.38,291.22 L732.51,289.78 L732.53,289.53 M732.99,284.33 L733.02,284.04 L733.14,282.6 L733.26,281.17 L733.37,279.73 L733.49,278.3 L733.52,277.83 L733.52,277.83 M733.91,272.63 L733.92,272.56 L734.02,271.12 L734.12,269.69 L734.22,268.25 L734.31,266.82 L734.35,266.13 M734.66,260.93 L734.73,259.64 L734.81,258.21 L734.88,256.77 L734.95,255.34 L734.99,254.43 M735.21,249.23 L735.24,248.16 L735.29,246.72 L735.34,245.29 L735.38,243.85 L735.41,242.73 L735.41,242.73 M735.52,237.53 L735.53,236.68 L735.55,235.24 L735.57,233.81 L735.58,232.37 L735.58,231.03 L735.58,231.03 M735.57,225.83 L735.57,225.2 L735.55,223.76 L735.53,222.33 L735.51,220.89 L735.48,219.46 L735.48,219.33 L735.48,219.33 M735.33,214.13 L735.32,213.71 L735.26,212.28 L735.2,210.84 L735.14,209.41 L735.07,207.97 L735.05,207.63 M734.75,202.43 L734.74,202.23 L734.64,200.8 L734.54,199.36 L734.43,197.93 L734.31,196.49 L734.26,195.93 M733.79,190.73 L733.64,189.32 L733.49,187.88 L733.33,186.45 L733.16,185.01 L733.07,184.23 L733.07,184.23 M732.39,179.03 L732.22,177.83 L732.01,176.4 L731.8,174.96 L731.57,173.53 L731.41,172.53 L731.41,172.53 M730.51,167.33 L730.33,166.35 L730.06,164.92 L729.77,163.48 L729.48,162.05 L729.23,160.83 L729.23,160.83 M728.08,155.63 L727.9,154.87 L727.56,153.44 L727.21,152 L726.84,150.57 L726.47,149.13 L726.47,149.13 M725.04,143.93 L724.88,143.39 L724.46,141.95 L724.03,140.52 L723.59,139.08 L723.13,137.65 L723.06,137.43 M721.32,132.23 L721.21,131.91 L720.7,130.47 L720.18,129.04 L719.65,127.6 L719.11,126.17 L718.94,125.73 M716.86,120.53 L716.82,120.43 L716.21,118.99 L715.6,117.56 L714.97,116.12 L714.33,114.69 L714.03,114.03 L714.03,114.03 M711.59,108.83 L710.94,107.51 L710.23,106.07 L709.5,104.64 L708.75,103.2 L708.29,102.33 L708.29,102.33 M705.46,97.13 L704.84,96.03 L704.02,94.59 L703.18,93.16 L702.33,91.72 L701.67,90.63 M698.45,85.43 L697.89,84.55 L696.96,83.11 L696.01,81.68 L695.06,80.24 L694.17,78.93"/>
</g>
<g stroke="#50008c">
<path stroke-width="0.999" d="M152.13,498.76 L156.67,493.44 M163.05,486 L166.8,481.62 L167.6,480.68 M173.99,473.25 L176.25,470.62 L178.55,467.94 M184.94,460.51 L185.72,459.61 L189.52,455.21 M195.92,447.79 L200.49,442.49 L200.49,442.49 M206.91,435.08 L211.49,429.79 M217.91,422.39 L222.5,417.1 M228.93,409.71 L233.38,404.6 L233.53,404.43 M239.97,397.04 L242.98,393.59 L244.57,391.77 M251.02,384.39 L252.59,382.59 L255.63,379.12 L255.63,379.12 M262.09,371.75 L262.23,371.59 L266.7,366.49 M273.17,359.12 L277.79,353.86 M284.26,346.51 L288.89,341.26 L288.89,341.26 M295.38,333.91 L300.01,328.66 M306.5,321.32 L310.7,316.57 L311.14,316.07 L311.14,316.07 M317.64,308.74 L320.45,305.57 L322.28,303.5 M328.79,296.18 L330.22,294.56 L333.44,290.95 M339.96,283.62 L340.01,283.56 L344.62,278.4 M351.14,271.09 L355.8,265.86 L355.8,265.86 M362.33,258.56 L367,253.34 L367,253.34 M373.54,246.04 L378.21,240.83 L378.21,240.83 M384.76,233.54 L389.24,228.55 L389.44,228.33 M395.99,221.05 L399.14,217.54 L400.68,215.84 M407.24,208.56 L409.06,206.54 L411.93,203.37 M418.49,196.09 L419,195.54 L423.19,190.9 L423.19,190.9 M429.76,183.63 L434.47,178.45 L434.47,178.45 M441.05,171.19 L445.75,166 M452.34,158.75 L457.05,153.57 M463.65,146.33 L468.36,141.15 M474.97,133.91 L478.98,129.52 L479.69,128.74 L479.69,128.74 M486.3,121.51 L489.03,118.51 L491.02,116.34 M497.64,109.11 L499.11,107.51 L502.37,103.95 M508.99,96.73 L509.19,96.51 L513.73,91.57 L513.73,91.57 M520.36,84.35 L525.09,79.2"/>
<path stroke-width="0.999" d="M198.26,498.7 L202.73,493.32 M209,485.79 L212.47,481.62 L213.48,480.41 M219.76,472.89 L221.66,470.62 L224.25,467.52 M230.54,460 L230.87,459.61 L235.04,454.64 M241.35,447.13 L245.85,441.78 L245.85,441.78 M252.17,434.28 L256.68,428.93 M263,421.45 L267.52,416.1 M273.86,408.62 L277.27,404.6 L278.39,403.29 M284.73,395.82 L286.62,393.59 L289.27,390.49 M295.62,383.03 L296,382.59 L300.17,377.7 L300.17,377.7 M306.53,370.25 L311.08,364.93 M317.46,357.49 L322.02,352.18 M328.4,344.74 L332.97,339.43 L332.97,339.43 M339.36,332.01 L343.18,327.57 L343.93,326.71 M350.34,319.29 L352.68,316.57 L354.91,313.99 L354.91,313.99 M361.33,306.58 L362.21,305.57 L365.91,301.29 M372.34,293.89 L376.93,288.61 M383.36,281.21 L387.96,275.94 M394.4,268.55 L399,263.28 L399,263.28 M405.45,255.9 L410.06,250.63 L410.06,250.63 M416.52,243.26 L419.78,239.55 L421.14,238 L421.14,238 M427.6,230.64 L429.44,228.55 L432.23,225.38 M438.7,218.02 L439.13,217.54 L443.33,212.77 M449.82,205.42 L454.45,200.18 M460.94,192.84 L465.58,187.6 L465.58,187.6 M472.08,180.26 L476.73,175.03 L476.73,175.03 M483.24,167.7 L487.84,162.53 L487.89,162.47 M494.41,155.15 L497.64,151.52 L499.07,149.93 M505.59,142.61 L507.46,140.52 L510.25,137.39 M516.79,130.09 L517.3,129.52 L521.46,124.87 L521.46,124.87 M527.99,117.57 L532.67,112.36 M539.22,105.07 L543.9,99.87 M550.45,92.58 L555.14,87.38 L555.14,87.38 M561.7,80.1 L566.39,74.9"/>
<path stroke-width="0.999" d="M264.21,498.62 L268.56,493.14 M274.67,485.47 L277.74,481.62 L279.04,480 M285.16,472.35 L286.54,470.62 L289.54,466.88 M295.67,459.24 L300.06,453.79 M306.2,446.16 L310.6,440.71 L310.6,440.71 M316.76,433.09 L321.17,427.65 M327.34,420.04 L330.94,415.6 L331.76,414.6 M337.94,407 L339.9,404.6 L342.37,401.58 M348.57,393.99 L348.89,393.59 L353,388.57 M359.21,380.99 L363.65,375.58 L363.65,375.58 M369.88,368.01 L374.33,362.61 M380.56,355.05 L385.02,349.65 M391.27,342.1 L394.19,338.58 L395.74,336.71 L395.74,336.71 M402,329.17 L403.33,327.57 L406.47,323.79 M412.74,316.26 L417.23,310.89 L417.23,310.89 M423.51,303.36 L428,298 M434.3,290.48 L438.8,285.12 M445.1,277.62 L449.36,272.56 L449.61,272.26 M455.92,264.77 L458.63,261.55 L460.44,259.42 L460.44,259.42 M466.77,251.94 L467.93,250.55 L471.29,246.59 L471.29,246.59 M477.62,239.12 L482.16,233.78 L482.16,233.78 M488.5,226.31 L493.04,220.98 M499.4,213.53 L503.94,208.2 M510.31,200.75 L514.77,195.54 L514.86,195.43 M521.24,187.99 L524.2,184.53 L525.8,182.68 L525.8,182.68 M532.18,175.25 L533.66,173.53 L536.75,169.94 L536.75,169.94 M543.14,162.52 L547.72,157.22 M554.12,149.8 L558.7,144.51 M565.12,137.1 L569.7,131.81 M576.13,124.41 L580.72,119.12 L580.72,119.12 M587.16,111.73 L590.83,107.51 L591.75,106.45 M598.2,99.07 L600.43,96.51 L602.8,93.8 M609.25,86.42 L610.06,85.5 L613.86,81.16 L613.86,81.16"/>
<path stroke-width="0.999" d="M318.29,498.54 L322.54,492.98 M328.5,485.2 L331.25,481.62 L332.76,479.65 M338.74,471.88 L339.72,470.62 L343.02,466.34 M349.01,458.59 L353.3,453.06 M359.31,445.31 L363.61,439.79 L363.61,439.79 M369.63,432.06 L373.89,426.6 L373.94,426.54 M379.98,418.83 L382.51,415.6 L384.3,413.32 M390.36,405.61 L391.16,404.6 L394.69,400.12 M400.76,392.42 L405.1,386.93 M411.18,379.25 L415.54,373.77 L415.54,373.77 M421.64,366.1 L426,360.62 M432.11,352.96 L434.81,349.58 L436.48,347.49 M442.61,339.84 L443.62,338.58 L446.99,334.39 L446.99,334.39 M453.13,326.75 L457.52,321.3 M463.68,313.67 L468.08,308.23 L468.08,308.23 M474.25,300.61 L478.65,295.17 M484.84,287.57 L488.09,283.56 L489.25,282.14 M495.45,274.54 L497.07,272.56 L499.88,269.12 M506.08,261.54 L510.52,256.12 L510.52,256.12 M516.74,248.55 L521.18,243.14 L521.18,243.14 M527.41,235.58 L531.87,230.18 L531.87,230.18 M538.11,222.62 L542.31,217.54 L542.57,217.23 M548.82,209.68 L551.43,206.54 L553.29,204.3 M559.56,196.76 L560.58,195.54 L564.04,191.38 M570.32,183.86 L574.8,178.49 L574.8,178.49 M581.09,170.97 L585.59,165.6 L585.59,165.6 M591.89,158.1 L596.39,152.73 M602.7,145.24 L606.67,140.52 L607.21,139.88 M613.53,132.4 L615.96,129.52 L618.05,127.05 M624.38,119.57 L625.27,118.51 L628.91,114.23 L628.91,114.23 M635.25,106.76 L639.78,101.42 M646.13,93.96 L650.67,88.63 M657.04,81.18 L661.58,75.86 L661.58,75.86"/>
<path stroke-width="0.999" d="M351.76,498.49 L355.94,492.88 M361.81,485.03 L364.36,481.62 L366,479.43 M371.88,471.59 L372.61,470.62 L376.1,466 M382,458.17 L386.22,452.59 M392.14,444.78 L396.37,439.2 L396.37,439.2 M402.31,431.41 L405.97,426.6 L406.55,425.84 M412.51,418.06 L414.38,415.6 L416.76,412.5 M422.73,404.73 L422.83,404.6 L427,399.18 M432.99,391.42 L437.27,385.88 M443.27,378.14 L447.56,372.61 L447.56,372.61 M453.58,364.87 L456.92,360.58 L457.89,359.35 M463.92,351.63 L465.52,349.58 L468.24,346.12 M474.28,338.4 L478.61,332.9 L478.61,332.9 M484.67,325.2 L489.01,319.71 M495.09,312.02 L499.43,306.53 L499.43,306.53 M505.52,298.86 L508.93,294.56 L509.88,293.38 M515.99,285.71 L517.7,283.56 L520.35,280.24 M526.47,272.59 L526.5,272.56 L530.85,267.12 M536.98,259.48 L541.37,254.03 L541.37,254.03 M547.52,246.39 L551.91,240.95 L551.91,240.95 M558.08,233.33 L561.94,228.55 L562.48,227.88 L562.48,227.88 M568.65,220.27 L570.87,217.54 L573.07,214.84 M579.25,207.24 L579.83,206.54 L583.68,201.82 M589.88,194.23 L594.31,188.81 M600.52,181.23 L604.96,175.82 L604.96,175.82 M611.19,168.25 L615.64,162.84 L615.64,162.84 M621.87,155.28 L624.98,151.52 L626.33,149.89 M632.58,142.34 L634.08,140.52 L637.05,136.95 M643.3,129.41 L647.78,124.03 M654.05,116.49 L658.54,111.12 L658.54,111.12 M664.82,103.6 L669.31,98.23 M675.6,90.72 L679.97,85.5 L680.1,85.35 M686.41,77.85 L689.22,74.5"/>
<path stroke-width="0.999" d="M376.38,498.46 L380.51,492.8 M386.31,484.9 L388.71,481.62 L390.45,479.26 M396.26,471.37 L396.81,470.62 L400.42,465.74 M406.25,457.86 L410.42,452.24 M416.27,444.37 L420.45,438.76 L420.45,438.76 M426.32,430.91 L429.55,426.6 L430.52,425.31 M436.41,417.48 L437.82,415.6 L440.62,411.88 M446.52,404.06 L450.74,398.48 M456.67,390.67 L460.9,385.1 M466.84,377.3 L471.09,371.74 L471.09,371.74 M477.04,363.96 L479.62,360.58 L481.3,358.4 M487.27,350.63 L488.08,349.58 L491.55,345.08 M497.53,337.33 L501.82,331.79 L501.82,331.79 M507.82,324.04 L512.11,318.52 M518.13,310.78 L522.2,305.57 L522.44,305.26 L522.44,305.26 M528.47,297.54 L530.8,294.56 L532.79,292.03 M538.84,284.32 L539.44,283.56 L543.17,278.82 M549.23,271.12 L553.57,265.63 M559.65,257.94 L564,252.45 L564,252.45 M570.09,244.78 L574.25,239.55 L574.45,239.3 L574.45,239.3 M580.56,231.64 L583.02,228.55 L584.93,226.17 L584.93,226.17 M591.05,218.52 L591.83,217.54 L595.43,213.05 M601.56,205.41 L605.95,199.96 M612.1,192.33 L616.5,186.88 M622.66,179.26 L627.06,173.82 L627.06,173.82 M633.24,166.21 L636.23,162.53 L637.65,160.78 L637.65,160.78 M643.84,153.18 L645.19,151.52 L648.27,147.76 M654.47,140.17 L658.9,134.75 M665.12,127.17 L669.56,121.76 M675.78,114.2 L680.23,108.79 L680.23,108.79 M686.47,101.23 L690.38,96.51 L690.93,95.84 M697.18,88.29 L699.49,85.5 L701.65,82.9 M707.91,75.36 L708.62,74.5"/>
<path stroke-width="0.999" d="M412.39,498.4 L416.44,492.69 M422.12,484.71 L424.31,481.62 L426.18,479.01 M431.88,471.03 L432.18,470.62 L435.96,465.35 M441.68,457.39 L445.78,451.71 M451.52,443.77 L455.63,438.11 L455.63,438.11 M461.4,430.18 L464,426.6 L465.52,424.52 M471.3,416.61 L472.04,415.6 L475.44,410.97 M481.25,403.07 L485.4,397.44 M491.22,389.55 L495.39,383.93 M501.23,376.06 L504.55,371.59 L505.41,370.44 L505.41,370.44 M511.27,362.59 L512.77,360.58 L515.46,356.98 M521.34,349.14 L525.55,343.55 M531.44,335.72 L535.66,330.13 L535.66,330.13 M541.58,322.32 L545.8,316.74 M551.74,308.94 L554.3,305.57 L555.98,303.37 L555.98,303.37 M561.93,295.58 L562.71,294.56 L566.18,290.03 M572.15,282.25 L576.42,276.7 M582.4,268.94 L586.68,263.4 M592.67,255.65 L596.62,250.55 L596.96,250.12 L596.96,250.12 M602.98,242.38 L605.18,239.55 L607.28,236.86 L607.28,236.86 M613.31,229.13 L613.76,228.55 L617.62,223.62 L617.62,223.62 M623.66,215.9 L627.99,210.4 M634.04,202.69 L638.38,197.2 M644.45,189.51 L648.38,184.53 L648.79,184.01 M654.88,176.34 L657.11,173.53 L659.24,170.86 L659.24,170.86 M665.34,163.19 L665.86,162.53 L669.7,157.71 L669.7,157.71 M675.82,150.06 L680.19,144.59 M686.32,136.95 L690.71,131.49 M696.85,123.85 L701.16,118.51 L701.24,118.4 M707.4,110.78 L710.04,107.51 L711.81,105.34 L711.81,105.34 M717.97,97.72 L718.96,96.51 L722.39,92.29 M728.57,84.69 L732.99,79.26"/>
<path stroke-width="0.999" d="M438.89,498.36 L442.87,492.62 L442.88,492.61 M448.47,484.56 L450.52,481.62 L452.47,478.82 M458.09,470.79 L458.21,470.62 L462.11,465.06 M467.75,457.04 L471.79,451.32 M477.45,443.32 L481.5,437.61 L481.5,437.61 M487.18,429.63 L489.34,426.6 L491.25,423.93 M496.95,415.97 L497.22,415.6 L501.04,410.28 M506.77,402.33 L510.86,396.65 M516.61,388.72 L520.72,383.05 M526.49,375.13 L529.07,371.59 L530.62,369.47 L530.62,369.47 M536.41,361.57 L537.12,360.58 L540.55,355.92 M546.36,348.03 L550.51,342.4 M556.34,334.52 L560.51,328.89 L560.51,328.89 M566.35,321.03 L569.67,316.57 L570.53,315.41 M576.4,307.56 L577.89,305.57 L580.6,301.96 L580.6,301.96 M586.48,294.12 L590.69,288.53 M596.59,280.7 L600.81,275.12 M606.73,267.31 L610.96,261.73 M616.89,253.93 L619.47,250.55 L621.14,248.37 L621.14,248.37 M627.09,240.58 L627.88,239.55 L631.35,235.03 L631.35,235.03 M637.32,227.25 L641.59,221.71 L641.59,221.71 M647.57,213.95 L651.85,208.41 M657.85,200.66 L661.83,195.54 L662.14,195.13 M668.16,187.39 L670.39,184.53 L672.46,181.87 M678.5,174.15 L678.98,173.53 L682.81,168.64 L682.81,168.64 M688.86,160.92 L693.18,155.42 L693.18,155.42 M699.25,147.72 L703.58,142.22 M709.66,134.54 L713.63,129.52 L714,129.05 M720.09,121.37 L722.36,118.51 L724.45,115.89 M730.56,108.23 L731.13,107.51 L734.92,102.76 L734.92,102.76 M741.04,95.1 L745.42,89.64 M751.55,81.99 L755.94,76.54"/>
<path stroke-width="0.999" d="M477.65,498.3 L481.44,492.62 L481.54,492.48 M487,484.34 L488.83,481.62 L490.91,478.54 M496.39,470.42 L500.32,464.62 M505.83,456.52 L509.78,450.74 M515.32,442.65 L518.78,437.61 L519.28,436.88 L519.28,436.88 M524.84,428.81 L526.37,426.6 L528.82,423.06 M534.41,415 L538.41,409.26 M544.02,401.22 L548.03,395.49 M553.67,387.47 L557.1,382.59 L557.69,381.74 M563.35,373.74 L564.87,371.59 L567.4,368.03 L567.4,368.03 M573.08,360.04 L577.14,354.34 M582.84,346.37 L586.92,340.68 M592.64,332.73 L596.35,327.57 L596.73,327.05 L596.73,327.05 M602.47,319.1 L604.31,316.57 L606.58,313.44 M612.34,305.51 L616.47,299.85 L616.47,299.85 M622.25,291.94 L626.39,286.3 M632.19,278.4 L636.34,272.76 M642.16,264.88 L644.62,261.55 L646.33,259.25 M652.17,251.38 L652.78,250.55 L656.35,245.77 L656.35,245.77 M662.21,237.91 L666.4,232.31 L666.4,232.31 M672.28,224.46 L676.48,218.87 L676.48,218.87 M682.38,211.04 L685.77,206.54 L686.59,205.45 M692.51,197.64 L694.1,195.54 L696.74,192.06 M702.67,184.26 L706.91,178.69 M712.86,170.9 L717.11,165.34 L717.11,165.34 M723.08,157.56 L727.34,152.01 L727.34,152.01 M733.32,144.25 L736.2,140.52 L737.6,138.71 M743.59,130.96 L744.71,129.52 L747.88,125.43 M753.9,117.69 L758.2,112.16 M764.22,104.44 L768.53,98.92 L768.53,98.92 M774.58,91.21 L778.9,85.7 M784.96,78 L787.71,74.5"/>
<path stroke-width="0.999" d="M506.17,498.26 L509.83,492.62 L509.99,492.39 M515.34,484.18 L517.02,481.62 L519.18,478.33 M524.56,470.14 L528.42,464.3 M533.84,456.13 L537.71,450.3 M543.15,442.15 L546.19,437.61 L547.05,436.33 L547.05,436.33 M552.52,428.2 L553.59,426.6 L556.43,422.4 M561.92,414.28 L565.86,408.49 M571.38,400.39 L575.33,394.61 M580.87,386.53 L583.58,382.59 L584.84,380.77 M590.41,372.7 L591.18,371.59 L594.4,366.95 L594.4,366.95 M599.99,358.9 L604,353.16 M609.61,345.13 L613.63,339.4 M619.27,331.39 L621.96,327.57 L623.31,325.67 L623.31,325.67 M628.97,317.67 L629.74,316.57 L633.02,311.96 M638.71,303.98 L642.77,298.28 L642.77,298.28 M648.48,290.31 L652.56,284.63 M658.29,276.68 L661.26,272.56 L662.39,271 M668.14,263.06 L669.23,261.55 L672.25,257.4 M678.02,249.48 L682.15,243.82 L682.15,243.82 M687.94,235.91 L692.08,230.27 L692.08,230.27 M697.89,222.38 L701.45,217.54 L702.04,216.74 L702.04,216.74 M707.87,208.87 L709.59,206.54 L712.04,203.24 M717.88,195.38 L722.07,189.76 M727.93,181.91 L732.13,176.31 M738.01,168.47 L742.22,162.88 L742.22,162.88 M748.12,155.05 L750.78,151.52 L752.34,149.47 L752.34,149.47 M758.26,141.66 L759.12,140.52 L762.49,136.08 M768.43,128.29 L772.67,122.72 M778.63,114.94 L782.88,109.38 M788.85,101.61 L792.77,96.51 L793.12,96.06 L793.12,96.06 M799.11,88.3 L801.26,85.5 L803.39,82.76 M809.39,75.01 L809.78,74.5"/>
<path stroke-width="0.999" d="M528.89,498.22 L532.44,492.62 L532.64,492.31 M537.92,484.05 L539.47,481.62 L541.69,478.16 M546.99,469.91 L550.79,464.04 M556.13,455.81 L559.94,449.95 M565.31,441.74 L568.02,437.61 L569.15,435.89 L569.15,435.89 M574.53,427.71 L575.26,426.6 L578.4,421.87 M583.81,413.7 L587.69,407.87 M593.14,399.73 L597.04,393.91 M602.51,385.78 L604.66,382.59 L606.43,379.98 M611.92,371.87 L612.11,371.59 L615.86,366.08 L615.86,366.08 M621.38,357.99 L625.34,352.21 M630.89,344.13 L634.71,338.58 L634.86,338.37 M640.43,330.31 L642.32,327.57 L644.42,324.55 L644.42,324.55 M650.02,316.51 L654.03,310.77 M659.64,302.74 L663.67,297.01 L663.67,297.01 M669.31,289 L673.15,283.56 L673.35,283.28 M679.02,275.29 L680.95,272.56 L683.07,269.58 M688.76,261.6 L688.79,261.55 L692.83,255.91 M698.54,247.94 L702.62,242.26 L702.62,242.26 M708.36,234.31 L712.45,228.63 L712.45,228.63 M718.21,220.7 L720.5,217.54 L722.32,215.04 L722.32,215.04 M728.09,207.12 L728.51,206.54 L732.22,201.47 M738.02,193.56 L742.16,187.92 M747.97,180.03 L752.13,174.39 M757.96,166.52 L760.92,162.53 L762.13,160.9 L762.13,160.9 M767.98,153.03 L769.1,151.52 L772.17,147.42 L772.17,147.42 M778.03,139.57 L782.23,133.97 M788.12,126.14 L792.33,120.54 M798.23,112.72 L802.17,107.51 L802.45,107.14 M808.37,99.33 L810.52,96.51 L812.61,93.76 L812.61,93.76 M818.55,85.96 L818.9,85.5 L822.8,80.4"/>
<path stroke-width="0.999" d="M547.84,498.19 L551.3,492.62 L551.54,492.25 M556.74,483.94 L558.19,481.62 L560.47,478.02 M565.69,469.73 L569.44,463.82 M574.71,455.55 L578.47,449.65 M583.77,441.4 L586.21,437.61 L587.56,435.52 L587.56,435.52 M592.88,427.29 L593.33,426.6 L596.7,421.42 M602.05,413.21 L605.88,407.35 M611.27,399.17 L614.94,393.59 L615.12,393.32 M620.53,385.15 L622.22,382.59 L624.4,379.32 M629.84,371.16 L633.73,365.35 L633.73,365.35 M639.2,357.21 L643.11,351.41 M648.6,343.29 L651.79,338.58 L652.53,337.5 M658.05,329.4 L659.29,327.57 L662,323.62 L662,323.62 M667.54,315.53 L671.5,309.77 M677.07,301.7 L681.05,295.95 L681.05,295.95 M686.64,287.9 L689.66,283.56 L690.64,282.15 M696.26,274.12 L697.35,272.56 L700.28,268.39 M705.91,260.37 L709.95,254.65 M715.61,246.65 L719.66,240.94 L719.66,240.94 M725.34,232.96 L728.48,228.55 L729.4,227.26 L729.4,227.26 M735.11,219.29 L736.36,217.54 L739.19,213.6 L739.19,213.6 M744.91,205.65 L749.01,199.97 M754.75,192.03 L758.86,186.36 M764.63,178.44 L768.21,173.53 L768.76,172.78 M774.54,164.88 L776.26,162.53 L778.68,159.23 L778.68,159.23 M784.49,151.33 L788.64,145.7 L788.64,145.7 M794.47,137.82 L798.63,132.2 M804.48,124.33 L808.66,118.71 M814.52,110.86 L817.02,107.51 L818.71,105.26 M824.59,97.42 L825.28,96.51 L828.8,91.82 L828.8,91.82 M834.7,84 L838.92,78.41"/>
<path stroke-width="0.999" d="M571.51,498.15 L574.86,492.62 L575.14,492.17 M580.24,483.8 L581.58,481.62 L583.9,477.84 M589.04,469.49 L592.72,463.54 M597.9,455.22 L601.6,449.28 M606.81,440.97 L608.92,437.61 L610.54,435.05 L610.54,435.05 M615.77,426.77 L615.88,426.6 L619.53,420.86 M624.8,412.6 L628.57,406.7 M633.87,398.46 L637.01,393.59 L637.67,392.58 M643,384.35 L644.14,382.59 L646.82,378.49 M652.18,370.28 L656.02,364.43 L656.02,364.43 M661.4,356.24 L665.26,350.4 M670.68,342.23 L673.1,338.58 L674.55,336.4 M680,328.25 L680.45,327.57 L683.9,322.44 L683.9,322.44 M689.36,314.31 L693.28,308.51 M698.78,300.39 L702.71,294.6 L702.71,294.6 M708.23,286.51 L710.24,283.56 L712.19,280.73 M717.73,272.65 L717.79,272.56 L721.7,266.89 M727.27,258.82 L731.26,253.07 M736.86,245.03 L740.67,239.55 L740.86,239.28 L740.86,239.28 M746.48,231.25 L748.38,228.55 L750.5,225.52 L750.5,225.52 M756.14,217.51 L760.18,211.79 L760.18,211.79 M765.85,203.8 L769.9,198.09 M775.59,190.11 L779.57,184.53 L779.65,184.41 M785.36,176.45 L787.45,173.53 L789.45,170.76 M795.17,162.81 L795.38,162.53 L799.28,157.14 L799.28,157.14 M805.03,149.2 L809.14,143.54 L809.14,143.54 M814.91,135.62 L819.04,129.96 M824.83,122.06 L827.43,118.51 L828.97,116.41 M834.78,108.52 L835.52,107.51 L838.94,102.89 M844.77,95.01 L848.94,89.39 L848.94,89.39 M854.79,81.53 L858.97,75.91"/>
<path stroke-width="0.999" d="M602.77,498.1 L605.97,492.62 L606.31,492.06 M611.28,483.62 L612.46,481.62 L614.85,477.6 M619.86,469.17 L623.46,463.17 M628.51,454.77 L632.12,448.78 M637.21,440.4 L638.91,437.61 L640.86,434.43 L640.86,434.43 M645.98,426.07 L649.65,420.11 M654.81,411.78 L658.5,405.83 M663.69,397.52 L666.14,393.59 L667.4,391.58 M672.62,383.29 L673.06,382.59 L676.37,377.37 M681.62,369.1 L685.38,363.2 L685.38,363.2 M690.67,354.94 L694.11,349.58 L694.45,349.05 M699.76,340.82 L701.21,338.58 L703.57,334.95 M708.91,326.73 L712.74,320.87 L712.74,320.87 M718.11,312.67 L721.96,306.83 M727.36,298.65 L730.06,294.56 L731.23,292.81 L731.23,292.81 M736.66,284.65 L737.38,283.56 L740.55,278.83 M746,270.69 L749.91,264.88 M755.39,256.76 L759.31,250.96 M764.82,242.86 L767.07,239.55 L768.77,237.08 L768.77,237.08 M774.3,228.99 L774.6,228.55 L778.26,223.22 L778.26,223.22 M783.82,215.14 L787.8,209.38 L787.8,209.38 M793.38,201.33 L797.37,195.58 M802.98,187.54 L805.08,184.53 L806.99,181.81 M812.62,173.79 L812.8,173.53 L816.65,168.06 M822.3,160.06 L826.35,154.34 L826.35,154.34 M832.02,146.35 L836.08,140.65 L836.08,140.65 M841.78,132.68 L844.04,129.52 L845.86,126.99 M851.57,119.03 L851.94,118.51 L855.67,113.35 M861.4,105.4 L865.51,99.74 M871.27,91.81 L875.39,86.15 L875.39,86.15 M881.17,78.23 L883.9,74.5"/>
<path stroke-width="0.999" d="M627.58,498.06 L630.67,492.62 L631.04,491.98 M635.91,483.47 L636.97,481.62 L639.4,477.41 M644.31,468.92 L647.83,462.87 M652.78,454.41 L656.19,448.61 L656.33,448.38 M661.32,439.94 L662.7,437.61 L664.89,433.93 L664.89,433.93 M669.92,425.51 L673.52,419.51 M678.58,411.12 L682.21,405.13 M687.31,396.76 L689.24,393.59 L690.96,390.79 M696.09,382.44 L699.77,376.48 M704.93,368.16 L708.63,362.21 L708.63,362.21 M713.83,353.91 L716.54,349.58 L717.55,347.98 M722.78,339.69 L723.49,338.58 L726.53,333.78 M731.79,325.51 L735.57,319.61 L735.57,319.61 M740.86,311.37 L744.59,305.57 L744.65,305.48 M749.97,297.25 L751.71,294.56 L753.79,291.38 L753.79,291.38 M759.13,283.17 L762.97,277.32 M768.35,269.13 L772.2,263.28 M777.62,255.11 L780.64,250.55 L781.49,249.28 M786.92,241.13 L787.98,239.55 L790.82,235.31 L790.82,235.31 M796.28,227.17 L800.19,221.37 L800.19,221.37 M805.68,213.25 L809.61,207.46 L809.61,207.46 M815.13,199.36 L817.74,195.54 L819.08,193.58 M824.62,185.49 L825.28,184.53 L828.59,179.73 M834.15,171.66 L838.14,165.9 M843.73,157.85 L847.72,152.11 L847.72,152.11 M853.34,144.08 L855.83,140.52 L857.36,138.34 L857.36,138.34 M862.99,130.33 L863.56,129.52 L867.03,124.61 M872.68,116.61 L876.74,110.9 M882.42,102.91 L886.48,97.21 M892.19,89.24 L894.86,85.5 L896.27,83.56 L896.27,83.56 M901.99,75.6 L902.78,74.5"/>
<path stroke-width="0.999" d="M648.2,498.03 L651.19,492.62 L651.59,491.9 M656.37,483.35 L657.34,481.62 L659.8,477.25 M664.62,468.71 L668.08,462.63 M672.94,454.12 L676.1,448.61 L676.42,448.05 M681.33,439.56 L682.46,437.61 L684.85,433.51 L684.85,433.51 M689.78,425.05 L693.33,419.01 M698.31,410.57 L701.85,404.6 L701.88,404.55 M706.9,396.13 L708.41,393.59 L710.5,390.13 M715.55,381.73 L719.18,375.74 M724.27,367.37 L727.91,361.39 L727.91,361.39 M733.04,353.04 L735.16,349.58 L736.71,347.08 M741.87,338.75 L741.97,338.58 L745.57,332.81 M750.76,324.49 L754.48,318.56 L754.48,318.56 M759.71,310.27 L762.68,305.57 L763.45,304.36 M768.71,296.09 L769.67,294.56 L772.47,290.19 L772.47,290.19 M777.76,281.94 L781.55,276.05 M786.87,267.82 L790.67,261.94 M796.02,253.73 L798.1,250.55 L799.85,247.87 M805.23,239.68 L805.31,239.55 L809.08,233.83 L809.08,233.83 M814.48,225.66 L818.35,219.82 L818.35,219.82 M823.79,211.67 L827.21,206.54 L827.67,205.85 L827.67,205.85 M833.13,197.71 L834.59,195.54 L837.04,191.9 M842.53,183.78 L846.46,177.99 M851.97,169.88 L855.91,164.1 M861.45,156.02 L864.53,151.52 L865.41,150.24 L865.41,150.24 M870.97,142.18 L872.11,140.52 L874.95,136.42 L874.95,136.42 M880.54,128.36 L884.54,122.62 M890.15,114.58 L894.16,108.85 M899.79,100.83 L902.83,96.51 L903.82,95.11 M909.48,87.1 L910.61,85.5 L913.53,81.39 L913.53,81.39"/>
</g>
</g>
<g stroke="#000" stroke-width="1" fill="none" shape-rendering="crispEdges">
<line x1="87" y1="74.5" x2="697" y2="74.5"/>
<line x1="87" y1="201.5" x2="697" y2="201.5"/>
<line x1="87" y1="275.5" x2="697" y2="275.5"/>
<line x1="87" y1="327.5" x2="697" y2="327.5"/>
<line x1="87" y1="368.5" x2="697" y2="368.5"/>
<line x1="87" y1="401.5" x2="697" y2="401.5"/>
<line x1="87" y1="429.5" x2="697" y2="429.5"/>
<line x1="87" y1="453.5" x2="697" y2="453.5"/>
<line x1="87" y1="475.5" x2="697" y2="475.5"/>
<line x1="87" y1="494.5" x2="697" y2="494.5"/>
<line x1="87" y1="503.5" x2="697" y2="503.5"/>
<line x1="87.5" y1="74" x2="87.5" y2="504"/>
</g>
<g fill="none" shape-rendering="crispEdges">
<g stroke="#50008c" stroke-width="0.999"><line x1="482.23" y1="248.5" x2="488.75" y2="248.5"/>
<line x1="488.71" y1="258.5" x2="498.67" y2="258.5"/>
<line x1="495.34" y1="268.5" x2="507.97" y2="268.5"/>
<line x1="501.79" y1="277.5" x2="516.5" y2="277.5"/>
<line x1="508.39" y1="286.5" x2="523.45" y2="286.5"/>
<line x1="514.59" y1="294.5" x2="529.92" y2="294.5"/>
<line x1="520.52" y1="302.5" x2="536.02" y2="302.5"/>
<line x1="526.19" y1="310.5" x2="541.66" y2="310.5"/>
<line x1="531.64" y1="317.5" x2="547.08" y2="317.5"/>
<line x1="536.88" y1="324.5" x2="552.29" y2="324.5"/>
<line x1="541.81" y1="331.5" x2="555.97" y2="331.5"/>
<line x1="546.52" y1="338.5" x2="558.98" y2="338.5"/>
<line x1="551.07" y1="344.5" x2="562" y2="344.5"/>
<line x1="555.27" y1="350.5" x2="564.92" y2="350.5"/>
<line x1="559.29" y1="356.5" x2="567.81" y2="356.5"/>
<line x1="563.19" y1="362.5" x2="570.86" y2="362.5"/>
<line x1="566.97" y1="367.5" x2="573.83" y2="367.5"/>
<line x1="570.17" y1="373.5" x2="576.43" y2="373.5"/>
<line x1="573.28" y1="378.5" x2="578.91" y2="378.5"/>
<line x1="576.3" y1="383.5" x2="580.97" y2="383.5"/>
<line x1="579" y1="388.5" x2="582.18" y2="388.5"/>
<line x1="580.79" y1="393.5" x2="583.36" y2="393.5"/></g>
<line stroke="#f00" stroke-width="0.999" x1="416" y1="74.5" x2="414.4" y2="86"/>
<line stroke="#f00" stroke-width="0.999" x1="414.4" y1="86" x2="411.2" y2="123"/>
<line stroke="#f00" stroke-width="0.999" x1="411.2" y1="123" x2="408.3" y2="149"/>
<line stroke="#f00" stroke-width="0.999" x1="408.3" y1="149" x2="424.2" y2="168.9"/>
<line stroke="#f00" stroke-width="0.999" x1="424.2" y1="168.9" x2="444.8" y2="195"/>
<line stroke="#f00" stroke-width="0.999" x1="444.8" y1="195" x2="450.4" y2="201.4"/>
<line stroke="#f00" stroke-width="0.999" x1="450.4" y1="201.4" x2="476.1" y2="238.4"/>
<line stroke="#f00" stroke-width="0.999" x1="476.1" y1="238.4" x2="488.2" y2="257.7"/>
<line stroke="#f00" stroke-width="0.999" x1="488.2" y1="257.7" x2="500.2" y2="275.3"/>
<line stroke="#f00" stroke-width="0.999" x1="500.2" y1="275.3" x2="507.5" y2="285"/>
<line stroke="#f00" stroke-width="0.999" x1="507.5" y1="285" x2="538.4" y2="326.8"/>
<line stroke="#f00" stroke-width="0.999" x1="538.4" y1="326.8" x2="551.8" y2="345.5"/>
<line stroke="#f00" stroke-width="0.999" x1="551.8" y1="345.5" x2="567" y2="367.9"/>
<line stroke="#f00" stroke-width="0.999" x1="567" y1="367.9" x2="578.6" y2="387.5"/>
<line stroke="#f00" stroke-width="0.999" x1="578.6" y1="387.5" x2="583.5" y2="400.7"/>
<line stroke="#f00" stroke-width="0.999" x1="583.5" y1="400.7" x2="590" y2="408"/>
<line stroke="#f00" stroke-width="0.999" x1="590" y1="408" x2="598" y2="417.9"/>
<line stroke="#f00" stroke-width="0.999" x1="598" y1="417.9" x2="607" y2="429.5"/>
<line stroke="#f00" stroke-width="0.999" x1="607" y1="429.5" x2="612.3" y2="444.6"/>
<line stroke="#f00" stroke-width="0.999" x1="612.3" y1="444.6" x2="617.7" y2="455.4"/>
<line stroke="#f00" stroke-width="0.999" x1="617.7" y1="455.4" x2="621.8" y2="463.4"/>
<line stroke="#f00" stroke-width="0.999" x1="621.8" y1="463.4" x2="622.3" y2="481.2"/>
<line stroke="#f00" stroke-width="0.999" x1="622.3" y1="481.2" x2="624.8" y2="492.9"/>
<line stroke="#f00" stroke-width="0.999" x1="624.8" y1="492.9" x2="625.7" y2="494.6"/>
<line stroke="#f00" stroke-width="0.999" x1="416" y1="75.5" x2="414.4" y2="87"/>
<line stroke="#f00" stroke-width="0.999" x1="414.4" y1="87" x2="411.2" y2="124"/>
<line stroke="#f00" stroke-width="0.999" x1="411.2" y1="124" x2="408.3" y2="150"/>
<line stroke="#f00" stroke-width="0.999" x1="408.3" y1="150" x2="424.2" y2="169.9"/>
<line stroke="#f00" stroke-width="0.999" x1="424.2" y1="169.9" x2="444.8" y2="196"/>
<line stroke="#f00" stroke-width="0.999" x1="444.8" y1="196" x2="450.4" y2="202.4"/>
<line stroke="#f00" stroke-width="0.999" x1="450.4" y1="202.4" x2="476.1" y2="239.4"/>
<line stroke="#f00" stroke-width="0.999" x1="476.1" y1="239.4" x2="488.2" y2="258.7"/>
<line stroke="#f00" stroke-width="0.999" x1="488.2" y1="258.7" x2="500.2" y2="276.3"/>
<line stroke="#f00" stroke-width="0.999" x1="500.2" y1="276.3" x2="507.5" y2="286"/>
<line stroke="#f00" stroke-width="0.999" x1="507.5" y1="286" x2="538.4" y2="327.8"/>
<line stroke="#f00" stroke-width="0.999" x1="538.4" y1="327.8" x2="551.8" y2="346.5"/>
<line stroke="#f00" stroke-width="0.999" x1="551.8" y1="346.5" x2="567" y2="368.9"/>
<line stroke="#f00" stroke-width="0.999" x1="567" y1="368.9" x2="578.6" y2="388.5"/>
<line stroke="#f00" stroke-width="0.999" x1="578.6" y1="388.5" x2="583.5" y2="401.7"/>
<line stroke="#f00" stroke-width="0.999" x1="583.5" y1="401.7" x2="590" y2="409"/>
<line stroke="#f00" stroke-width="0.999" x1="590" y1="409" x2="598" y2="418.9"/>
<line stroke="#f00" stroke-width="0.999" x1="598" y1="418.9" x2="607" y2="430.5"/>
<line stroke="#f00" stroke-width="0.999" x1="607" y1="430.5" x2="612.3" y2="445.6"/>
<line stroke="#f00" stroke-width="0.999" x1="612.3" y1="445.6" x2="617.7" y2="456.4"/>
<line stroke="#f00" stroke-width="0.999" x1="617.7" y1="456.4" x2="621.8" y2="464.4"/>
<line stroke="#f00" stroke-width="0.999" x1="621.8" y1="464.4" x2="622.3" y2="482.2"/>
<line stroke="#f00" stroke-width="0.999" x1="622.3" y1="482.2" x2="624.8" y2="493.9"/>
<line stroke="#f00" stroke-width="0.999" x1="624.8" y1="493.9" x2="625.7" y2="495.6"/>
<line stroke="#f00" stroke-width="3" x1="622.2" y1="463.5" x2="622.4" y2="481"/>
<rect x="389.5" y="143" width="2.5" height="6" fill="#00f"/>
<line stroke="#00f" stroke-width="0.999" x1="383.1" y1="74.5" x2="384.2" y2="84.5"/>
<line stroke="#00f" stroke-width="0.999" x1="384.2" y1="84.5" x2="385.5" y2="102.1"/>
<line stroke="#00f" stroke-width="0.999" x1="385.5" y1="102.1" x2="388.7" y2="134.3"/>
<line stroke="#00f" stroke-width="0.999" x1="388.7" y1="134.3" x2="389.5" y2="141.5"/>
<line stroke="#00f" stroke-width="0.999" x1="389.5" y1="141.5" x2="390.5" y2="146"/>
<line stroke="#00f" stroke-width="0.999" x1="390.5" y1="146" x2="395.3" y2="159.3"/>
<line stroke="#00f" stroke-width="0.999" x1="395.3" y1="159.3" x2="408.9" y2="190"/>
<line stroke="#00f" stroke-width="0.999" x1="408.9" y1="190" x2="414.3" y2="201.6"/>
<line stroke="#00f" stroke-width="0.999" x1="414.3" y1="201.6" x2="421.4" y2="213.2"/>
<line stroke="#00f" stroke-width="0.999" x1="421.4" y1="213.2" x2="426.8" y2="225.7"/>
<line stroke="#00f" stroke-width="0.999" x1="426.8" y1="225.7" x2="433.9" y2="241.8"/>
<line stroke="#00f" stroke-width="0.999" x1="433.9" y1="241.8" x2="436.6" y2="256.1"/>
<line stroke="#00f" stroke-width="0.999" x1="436.6" y1="256.1" x2="438.4" y2="266.8"/>
<line stroke="#00f" stroke-width="0.999" x1="438.4" y1="266.8" x2="441.1" y2="279.3"/>
<line stroke="#00f" stroke-width="0.999" x1="441.1" y1="279.3" x2="446.7" y2="296.1"/>
<line stroke="#00f" stroke-width="0.999" x1="446.7" y1="296.1" x2="453" y2="313.9"/>
<line stroke="#00f" stroke-width="0.999" x1="453" y1="313.9" x2="455.6" y2="322.9"/>
<line stroke="#00f" stroke-width="0.999" x1="455.6" y1="322.9" x2="456.5" y2="327.3"/>
<line stroke="#00f" stroke-width="0.999" x1="456.5" y1="327.3" x2="462.8" y2="335.4"/>
<line stroke="#00f" stroke-width="0.999" x1="462.8" y1="335.4" x2="473.5" y2="347.9"/>
<line stroke="#00f" stroke-width="0.999" x1="473.5" y1="347.9" x2="482.4" y2="358.6"/>
<line stroke="#00f" stroke-width="0.999" x1="482.4" y1="358.6" x2="490" y2="366.4"/>
<line stroke="#00f" stroke-width="0.999" x1="490" y1="366.4" x2="505.7" y2="381.4"/>
<line stroke="#00f" stroke-width="0.999" x1="505.7" y1="381.4" x2="518.6" y2="393.6"/>
<line stroke="#00f" stroke-width="0.999" x1="518.6" y1="393.6" x2="527.9" y2="401.4"/>
<line stroke="#00f" stroke-width="0.999" x1="527.9" y1="401.4" x2="537.1" y2="412.9"/>
<line stroke="#00f" stroke-width="0.999" x1="537.1" y1="412.9" x2="545" y2="421.4"/>
<line stroke="#00f" stroke-width="0.999" x1="545" y1="421.4" x2="551.4" y2="428.6"/>
<line stroke="#00f" stroke-width="0.999" x1="551.4" y1="428.6" x2="561.4" y2="446.4"/>
<line stroke="#00f" stroke-width="0.999" x1="561.4" y1="446.4" x2="570" y2="457.9"/>
<line stroke="#00f" stroke-width="0.999" x1="570" y1="457.9" x2="577.1" y2="468.6"/>
<line stroke="#00f" stroke-width="0.999" x1="577.1" y1="468.6" x2="582.9" y2="478.6"/>
<line stroke="#00f" stroke-width="0.999" x1="582.9" y1="478.6" x2="585.7" y2="491.4"/>
<line stroke="#00f" stroke-width="0.999" x1="585.7" y1="491.4" x2="587.1" y2="495"/>
<line stroke="#00f" stroke-width="0.999" x1="587.1" y1="495" x2="589.3" y2="494.3"/>
<line stroke="#00f" stroke-width="0.999" x1="383.1" y1="75.5" x2="384.2" y2="85.5"/>
<line stroke="#00f" stroke-width="0.999" x1="384.2" y1="85.5" x2="385.5" y2="103.1"/>
<line stroke="#00f" stroke-width="0.999" x1="385.5" y1="103.1" x2="388.7" y2="135.3"/>
<line stroke="#00f" stroke-width="0.999" x1="388.7" y1="135.3" x2="389.5" y2="142.5"/>
<line stroke="#00f" stroke-width="0.999" x1="389.5" y1="142.5" x2="390.5" y2="147"/>
<line stroke="#00f" stroke-width="0.999" x1="390.5" y1="147" x2="395.3" y2="160.3"/>
<line stroke="#00f" stroke-width="0.999" x1="395.3" y1="160.3" x2="408.9" y2="191"/>
<line stroke="#00f" stroke-width="0.999" x1="408.9" y1="191" x2="414.3" y2="202.6"/>
<line stroke="#00f" stroke-width="0.999" x1="414.3" y1="202.6" x2="421.4" y2="214.2"/>
<line stroke="#00f" stroke-width="0.999" x1="421.4" y1="214.2" x2="426.8" y2="226.7"/>
<line stroke="#00f" stroke-width="0.999" x1="426.8" y1="226.7" x2="433.9" y2="242.8"/>
<line stroke="#00f" stroke-width="0.999" x1="433.9" y1="242.8" x2="436.6" y2="257.1"/>
<line stroke="#00f" stroke-width="0.999" x1="436.6" y1="257.1" x2="438.4" y2="267.8"/>
<line stroke="#00f" stroke-width="0.999" x1="438.4" y1="267.8" x2="441.1" y2="280.3"/>
<line stroke="#00f" stroke-width="0.999" x1="441.1" y1="280.3" x2="446.7" y2="297.1"/>
<line stroke="#00f" stroke-width="0.999" x1="446.7" y1="297.1" x2="453" y2="314.9"/>
<line stroke="#00f" stroke-width="0.999" x1="453" y1="314.9" x2="455.6" y2="323.9"/>
<line stroke="#00f" stroke-width="0.999" x1="455.6" y1="323.9" x2="456.5" y2="328.3"/>
<line stroke="#00f" stroke-width="0.999" x1="456.5" y1="328.3" x2="462.8" y2="336.4"/>
<line stroke="#00f" stroke-width="0.999" x1="462.8" y1="336.4" x2="473.5" y2="348.9"/>
<line stroke="#00f" stroke-width="0.999" x1="473.5" y1="348.9" x2="482.4" y2="359.6"/>
<line stroke="#00f" stroke-width="0.999" x1="482.4" y1="359.6" x2="490" y2="367.4"/>
<line stroke="#00f" stroke-width="0.999" x1="490" y1="367.4" x2="505.7" y2="382.4"/>
<line stroke="#00f" stroke-width="0.999" x1="505.7" y1="382.4" x2="518.6" y2="394.6"/>
<line stroke="#00f" stroke-width="0.999" x1="518.6" y1="394.6" x2="527.9" y2="402.4"/>
<line stroke="#00f" stroke-width="0.999" x1="527.9" y1="402.4" x2="537.1" y2="413.9"/>
<line stroke="#00f" stroke-width="0.999" x1="537.1" y1="413.9" x2="545" y2="422.4"/>
<line stroke="#00f" stroke-width="0.999" x1="545" y1="422.4" x2="551.4" y2="429.6"/>
<line stroke="#00f" stroke-width="0.999" x1="551.4" y1="429.6" x2="561.4" y2="447.4"/>
<line stroke="#00f" stroke-width="0.999" x1="561.4" y1="447.4" x2="570" y2="458.9"/>
<line stroke="#00f" stroke-width="0.999" x1="570" y1="458.9" x2="577.1" y2="469.6"/>
<line stroke="#00f" stroke-width="0.999" x1="577.1" y1="469.6" x2="582.9" y2="479.6"/>
<line stroke="#00f" stroke-width="0.999" x1="582.9" y1="479.6" x2="585.7" y2="492.4"/>
<line stroke="#00f" stroke-width="0.999" x1="585.7" y1="492.4" x2="587.1" y2="496"/>
<line stroke="#00f" stroke-width="0.999" x1="587.1" y1="496" x2="589.3" y2="495.3"/>
<line stroke="#50008c" stroke-width="0.999" x1="323.7" y1="74.5" x2="395.1" y2="159.2"/>
<line stroke="#50008c" stroke-width="0.999" x1="395.1" y1="159.2" x2="437.8" y2="201"/>
<line stroke="#50008c" stroke-width="0.999" x1="437.8" y1="201" x2="456.1" y2="219.3"/>
<line stroke="#50008c" stroke-width="0.999" x1="456.1" y1="219.3" x2="476.2" y2="237.8"/>
<line stroke="#50008c" stroke-width="0.999" x1="476.2" y1="237.8" x2="488.2" y2="249.6"/>
<line stroke="#50008c" stroke-width="0.999" x1="488.2" y1="249.6" x2="505.9" y2="268.1"/>
<line stroke="#50008c" stroke-width="0.999" x1="505.9" y1="268.1" x2="515.5" y2="278.5"/>
<line stroke="#50008c" stroke-width="0.999" x1="515.5" y1="278.5" x2="532.1" y2="300"/>
<line stroke="#50008c" stroke-width="0.999" x1="532.1" y1="300" x2="551.8" y2="326.8"/>
<line stroke="#50008c" stroke-width="0.999" x1="551.8" y1="326.8" x2="557.1" y2="338.4"/>
<line stroke="#50008c" stroke-width="0.999" x1="557.1" y1="338.4" x2="565.2" y2="355.4"/>
<line stroke="#50008c" stroke-width="0.999" x1="565.2" y1="355.4" x2="572.3" y2="368.75"/>
<line stroke="#50008c" stroke-width="0.999" x1="572.3" y1="368.75" x2="578.6" y2="382.1"/>
<line stroke="#50008c" stroke-width="0.999" x1="578.6" y1="382.1" x2="581.5" y2="394"/>
<line stroke="#50008c" stroke-width="0.999" x1="581.5" y1="394" x2="585.9" y2="416.7"/>
<line stroke="#50008c" stroke-width="0.999" x1="585.9" y1="416.7" x2="587.9" y2="420"/>
<line stroke="#50008c" stroke-width="0.999" x1="587.9" y1="420" x2="590.7" y2="434.3"/>
<line stroke="#50008c" stroke-width="0.999" x1="590.7" y1="434.3" x2="596.4" y2="472.9"/>
<line stroke="#50008c" stroke-width="0.999" x1="596.4" y1="472.9" x2="597.1" y2="480.6"/>
<line stroke="#50008c" stroke-width="0.999" x1="597.1" y1="480.6" x2="628.1" y2="494.7"/>
<line stroke="#50008c" stroke-width="0.999" x1="323.7" y1="75.5" x2="395.1" y2="160.2"/>
<line stroke="#50008c" stroke-width="0.999" x1="395.1" y1="160.2" x2="437.8" y2="202"/>
<line stroke="#50008c" stroke-width="0.999" x1="437.8" y1="202" x2="456.1" y2="220.3"/>
<line stroke="#50008c" stroke-width="0.999" x1="456.1" y1="220.3" x2="476.2" y2="238.8"/>
<line stroke="#50008c" stroke-width="0.999" x1="476.2" y1="238.8" x2="488.2" y2="250.6"/>
<line stroke="#50008c" stroke-width="0.999" x1="488.2" y1="250.6" x2="505.9" y2="269.1"/>
<line stroke="#50008c" stroke-width="0.999" x1="505.9" y1="269.1" x2="515.5" y2="279.5"/>
<line stroke="#50008c" stroke-width="0.999" x1="515.5" y1="279.5" x2="532.1" y2="301"/>
<line stroke="#50008c" stroke-width="0.999" x1="532.1" y1="301" x2="551.8" y2="327.8"/>
<line stroke="#50008c" stroke-width="0.999" x1="551.8" y1="327.8" x2="557.1" y2="339.4"/>
<line stroke="#50008c" stroke-width="0.999" x1="557.1" y1="339.4" x2="565.2" y2="356.4"/>
<line stroke="#50008c" stroke-width="0.999" x1="565.2" y1="356.4" x2="572.3" y2="369.75"/>
<line stroke="#50008c" stroke-width="0.999" x1="572.3" y1="369.75" x2="578.6" y2="383.1"/>
<line stroke="#50008c" stroke-width="0.999" x1="578.6" y1="383.1" x2="581.5" y2="395"/>
<line stroke="#50008c" stroke-width="0.999" x1="581.5" y1="395" x2="585.9" y2="417.7"/>
<line stroke="#50008c" stroke-width="0.999" x1="585.9" y1="417.7" x2="587.9" y2="421"/>
<line stroke="#50008c" stroke-width="0.999" x1="587.9" y1="421" x2="590.7" y2="435.3"/>
<line stroke="#50008c" stroke-width="0.999" x1="590.7" y1="435.3" x2="596.4" y2="473.9"/>
<line stroke="#50008c" stroke-width="0.999" x1="596.4" y1="473.9" x2="597.1" y2="481.6"/>
<line stroke="#50008c" stroke-width="0.999" x1="597.1" y1="481.6" x2="628.1" y2="495.7"/>
<line stroke="#50008c" stroke-width="0.999" x1="597.1" y1="482.2" x2="627" y2="496"/>
</g>
<g fill="#000">
<text class="e" x="85.67" y="51.80" font-size="16.67" textLength="625.17" lengthAdjust="spacing" fill="#000">AIRS SkewT Diagram 2010−08−03/05:18:20.73 (Lat/Lon 25.41/120.80 deg)</text>
<text x="113.48" y="65.60" font-size="10.43" textLength="28.04" lengthAdjust="spacingAndGlyphs" fill="#f00">−120</text>
<text x="180.48" y="65.60" font-size="10.43" textLength="28.54" lengthAdjust="spacingAndGlyphs" fill="#f00">−110</text>
<text x="248.98" y="65.60" font-size="10.43" textLength="28.04" lengthAdjust="spacingAndGlyphs" fill="#f00">−100</text>
<text x="323.98" y="65.60" font-size="10.43" textLength="21.04" lengthAdjust="spacingAndGlyphs" fill="#f00">−90</text>
<text x="391.48" y="65.60" font-size="10.43" textLength="21.54" lengthAdjust="spacingAndGlyphs" fill="#f00">−80</text>
<text x="458.98" y="65.60" font-size="10.43" textLength="21.54" lengthAdjust="spacingAndGlyphs" fill="#f00">−70</text>
<text x="525.98" y="65.60" font-size="10.43" textLength="22.54" lengthAdjust="spacingAndGlyphs" fill="#f00">−60</text>
<text x="593.98" y="65.60" font-size="10.43" textLength="22.54" lengthAdjust="spacingAndGlyphs" fill="#f00">−50</text>
<text x="661.48" y="65.60" font-size="10.43" textLength="22.54" lengthAdjust="spacingAndGlyphs" fill="#f00">−40</text>
<text x="87.49" y="516.80" font-size="10.29" textLength="22.03" lengthAdjust="spacingAndGlyphs" fill="#f00">−50</text>
<text x="154.49" y="516.80" font-size="10.29" textLength="22.03" lengthAdjust="spacingAndGlyphs" fill="#f00">−40</text>
<text x="222.99" y="516.80" font-size="10.29" textLength="22.03" lengthAdjust="spacingAndGlyphs" fill="#f00">−30</text>
<text x="290.49" y="516.80" font-size="10.29" textLength="22.03" lengthAdjust="spacingAndGlyphs" fill="#f00">−20</text>
<text x="358.49" y="516.80" font-size="10.29" textLength="22.03" lengthAdjust="spacingAndGlyphs" fill="#f00">−10</text>
<text x="432.99" y="516.80" font-size="10.29" textLength="7.53" lengthAdjust="spacingAndGlyphs" fill="#f00">0</text>
<text x="497.49" y="516.80" font-size="10.29" textLength="13.53" lengthAdjust="spacingAndGlyphs" fill="#f00">10</text>
<text x="565.99" y="516.80" font-size="10.29" textLength="13.03" lengthAdjust="spacingAndGlyphs" fill="#f00">20</text>
<text x="633.99" y="516.80" font-size="10.29" textLength="13.03" lengthAdjust="spacingAndGlyphs" fill="#f00">30</text>
<text x="678.46" y="516.80" font-size="10.72" textLength="19.57" lengthAdjust="spacing" fill="#f00">T(C)</text>
<text x="48.43" y="74.80" font-size="11.45" textLength="18.64" lengthAdjust="spacingAndGlyphs" fill="#000">100</text>
<text x="47.93" y="201.30" font-size="11.45" textLength="19.14" lengthAdjust="spacingAndGlyphs" fill="#000">200</text>
<text x="47.93" y="275.30" font-size="11.45" textLength="19.14" lengthAdjust="spacingAndGlyphs" fill="#000">300</text>
<text x="47.93" y="327.80" font-size="11.45" textLength="19.14" lengthAdjust="spacingAndGlyphs" fill="#000">400</text>
<text x="47.93" y="368.52" font-size="11.45" textLength="19.14" lengthAdjust="spacingAndGlyphs" fill="#000">500</text>
<text x="47.93" y="401.80" font-size="11.45" textLength="19.14" lengthAdjust="spacingAndGlyphs" fill="#000">600</text>
<text x="47.93" y="429.93" font-size="11.45" textLength="19.14" lengthAdjust="spacingAndGlyphs" fill="#000">700</text>
<text x="47.93" y="454.30" font-size="11.45" textLength="19.14" lengthAdjust="spacingAndGlyphs" fill="#000">800</text>
<text x="47.93" y="475.79" font-size="11.45" textLength="19.14" lengthAdjust="spacingAndGlyphs" fill="#000">900</text>
<text x="42.43" y="495.02" font-size="11.45" textLength="26.14" lengthAdjust="spacingAndGlyphs" fill="#000">1000</text>
<text class="e" x="117.03" y="116.70" font-size="19.42" textLength="163.44" lengthAdjust="spacing" fill="#f00">Ambient Air Temp</text>
<text class="e" x="117.60" y="137.40" font-size="17.97" textLength="149.30" lengthAdjust="spacing" fill="#00f">Dew Point Temp</text>
<text class="e" x="117.06" y="158.70" font-size="18.84" textLength="147.38" lengthAdjust="spacing" fill="#50008c">Air Parcel Temp</text>
<text x="700.83" y="84.80" font-size="13.48" textLength="44.35" lengthAdjust="spacing" fill="#000">TP:100</text>
<text x="699.83" y="100.46" font-size="13.48" textLength="50.35" lengthAdjust="spacing" fill="#000">MW:N/A</text>
<text x="699.33" y="116.12" font-size="13.48" textLength="53.85" lengthAdjust="spacing" fill="#000">FRZ:536</text>
<text x="700.33" y="131.78" font-size="13.48" textLength="53.85" lengthAdjust="spacing" fill="#000">WB0:441</text>
<text x="698.83" y="147.44" font-size="13.48" textLength="60.35" lengthAdjust="spacing" fill="#000">PW:30.34</text>
<text x="699.33" y="163.10" font-size="13.48" textLength="51.85" lengthAdjust="spacing" fill="#000">RH:59.8</text>
<text x="698.83" y="178.76" font-size="13.48" textLength="65.35" lengthAdjust="spacing" fill="#000">MAXT:36.2</text>
<text x="700.33" y="194.42" font-size="13.48" textLength="52.85" lengthAdjust="spacing" fill="#000">TH:5463</text>
<text x="699.33" y="210.08" font-size="13.48" textLength="49.35" lengthAdjust="spacing" fill="#000">L57:6.6</text>
<text x="699.33" y="225.74" font-size="13.48" textLength="51.85" lengthAdjust="spacing" fill="#000">LCL:924</text>
<text x="701.33" y="241.40" font-size="13.48" textLength="45.85" lengthAdjust="spacing" fill="#000">LI:−0.7</text>
<text x="701.33" y="257.06" font-size="13.48" textLength="36.35" lengthAdjust="spacing" fill="#000">SI:0.4</text>
<text x="700.33" y="272.72" font-size="13.48" textLength="46.85" lengthAdjust="spacing" fill="#000">TT:43.5</text>
<text x="700.33" y="288.38" font-size="13.48" textLength="41.85" lengthAdjust="spacing" fill="#000">KI:305</text>
<text x="699.83" y="304.04" font-size="13.48" textLength="48.85" lengthAdjust="spacing" fill="#000">SW:N/A</text>
<text x="701.33" y="319.70" font-size="13.48" textLength="35.35" lengthAdjust="spacing" fill="#000">EI:0.1</text>
<text x="698.83" y="335.36" font-size="13.48" textLength="69.35" lengthAdjust="spacing" fill="#000">−PARCEL−</text>
<text x="699.33" y="351.02" font-size="13.48" textLength="61.35" lengthAdjust="spacing" fill="#000">CAPE:289</text>
<text x="699.33" y="366.68" font-size="13.48" textLength="58.85" lengthAdjust="spacing" fill="#000">CINH:349</text>
<text x="699.83" y="382.34" font-size="13.48" textLength="51.85" lengthAdjust="spacing" fill="#000">LCL:924</text>
<text x="699.83" y="398.00" font-size="13.48" textLength="49.85" lengthAdjust="spacing" fill="#000">CAP:0.0</text>
<text x="699.83" y="413.66" font-size="13.48" textLength="53.35" lengthAdjust="spacing" fill="#000">LFC:574</text>
<text x="700.33" y="429.32" font-size="13.48" textLength="42.85" lengthAdjust="spacing" fill="#000">EL:241</text>
<text x="699.83" y="444.98" font-size="13.48" textLength="54.35" lengthAdjust="spacing" fill="#000">MPL:146</text>
<text x="701.33" y="460.64" font-size="13.48" textLength="50.85" lengthAdjust="spacing" fill="#000">−WIND−</text>
<text x="702.83" y="476.30" font-size="13.48" textLength="24.85" lengthAdjust="spacing" fill="#000">NOT</text>
<text x="701.83" y="491.96" font-size="13.48" textLength="32.35" lengthAdjust="spacing" fill="#000">AVAIL</text>
<text x="673.39" y="525.60" font-size="12.17" textLength="34.72" lengthAdjust="spacing" fill="#50008c">(g/kg)</text>
<text class="e" transform="translate(82,331.4) rotate(-90)" font-size="14" textLength="103.5" lengthAdjust="spacingAndGlyphs">PRESSURE (MB)</text>
<text transform="translate(141.6,523.0) rotate(-45)" fill="#50008c" stroke="#50008c" stroke-width="0.25" font-size="11.6" text-anchor="middle" dy="4.1">0.1</text>
<text transform="translate(189.0,523.0) rotate(-45)" fill="#50008c" stroke="#50008c" stroke-width="0.25" font-size="11.6" text-anchor="middle" dy="4.1">0.2</text>
<text transform="translate(254.5,523.0) rotate(-45)" fill="#50008c" stroke="#50008c" stroke-width="0.25" font-size="11.6" text-anchor="middle" dy="4.1">0.5</text>
<text transform="translate(307.5,522.6) rotate(-45)" fill="#50008c" stroke="#50008c" stroke-width="0.25" font-size="11.6" text-anchor="middle" dy="4.1">1</text>
<text transform="translate(340.8,522.7) rotate(-45)" fill="#50008c" stroke="#50008c" stroke-width="0.25" font-size="11.6" text-anchor="middle" dy="4.1">1.5</text>
<text transform="translate(365.4,523.6) rotate(-45)" fill="#50008c" stroke="#50008c" stroke-width="0.25" font-size="11.6" text-anchor="middle" dy="4.1">2</text>
<text transform="translate(400.3,523.0) rotate(-45)" fill="#50008c" stroke="#50008c" stroke-width="0.25" font-size="11.6" text-anchor="middle" dy="4.1">3</text>
<text transform="translate(428.2,522.2) rotate(-45)" fill="#50008c" stroke="#50008c" stroke-width="0.25" font-size="11.6" text-anchor="middle" dy="4.1">4</text>
<text transform="translate(465.3,523.2) rotate(-45)" fill="#50008c" stroke="#50008c" stroke-width="0.25" font-size="11.6" text-anchor="middle" dy="4.1">6</text>
<text transform="translate(494.0,522.7) rotate(-45)" fill="#50008c" stroke="#50008c" stroke-width="0.25" font-size="11.6" text-anchor="middle" dy="4.1">8</text>
<text transform="translate(516.6,522.5) rotate(-45)" fill="#50008c" stroke="#50008c" stroke-width="0.25" font-size="11.6" text-anchor="middle" dy="4.1">10</text>
<text transform="translate(535.5,522.5) rotate(-45)" fill="#50008c" stroke="#50008c" stroke-width="0.25" font-size="11.6" text-anchor="middle" dy="4.1">12</text>
<text transform="translate(558.8,522.5) rotate(-45)" fill="#50008c" stroke="#50008c" stroke-width="0.25" font-size="11.6" text-anchor="middle" dy="4.1">15</text>
<text transform="translate(589.7,523.5) rotate(-45)" fill="#50008c" stroke="#50008c" stroke-width="0.25" font-size="11.6" text-anchor="middle" dy="4.1">20</text>
<text transform="translate(614.0,523.5) rotate(-45)" fill="#50008c" stroke="#50008c" stroke-width="0.25" font-size="11.6" text-anchor="middle" dy="4.1">25</text>
<text transform="translate(635.0,523.0) rotate(-45)" fill="#50008c" stroke="#50008c" stroke-width="0.25" font-size="11.6" text-anchor="middle" dy="4.1">30</text>
<text x="663" y="526" fill="#50008c" font-size="12">W</text>
<text transform="translate(668,523) rotate(-45)" fill="#50008c" font-size="10.5" text-anchor="middle" dy="3.7">35</text>
</g>
</svg>
</body></html>
